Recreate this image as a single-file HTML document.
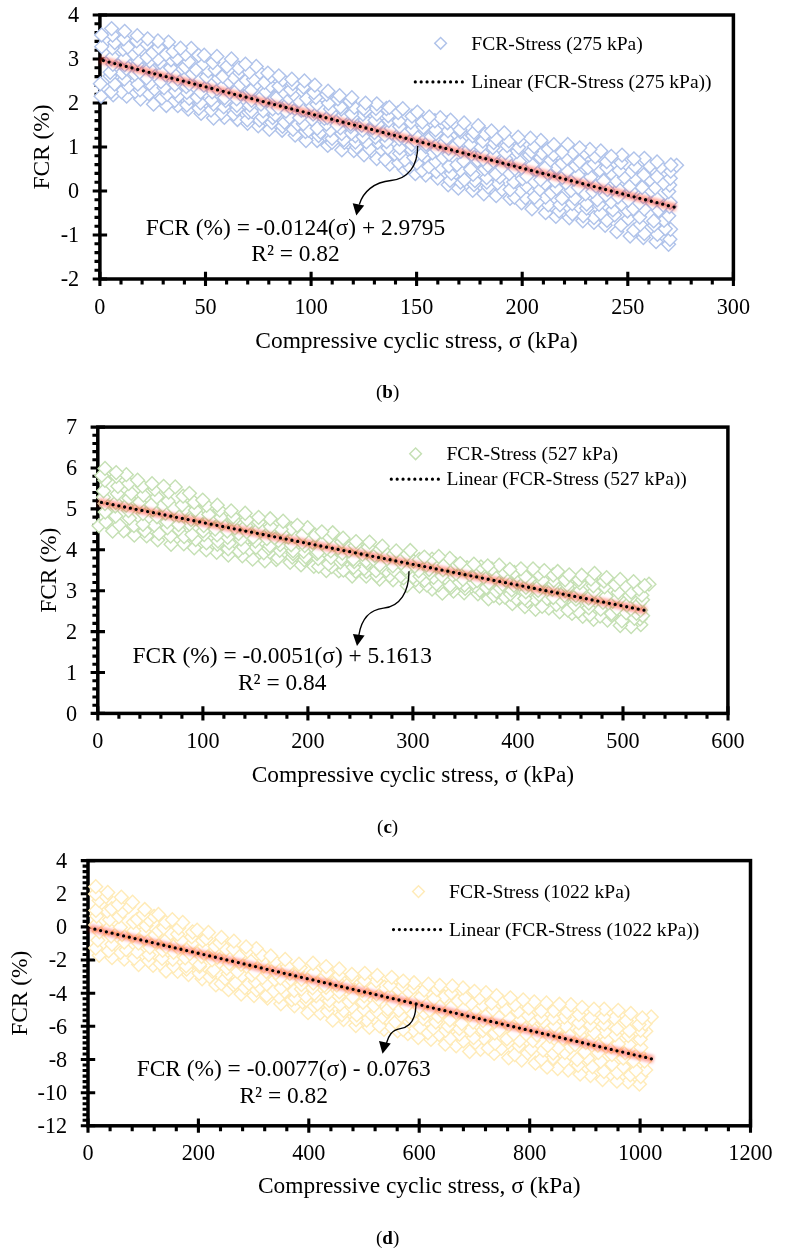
<!DOCTYPE html>
<html lang="en"><head><meta charset="utf-8"><title>FCR vs compressive cyclic stress</title>
<style>
html,body{margin:0;padding:0;background:#fff;}
body{width:785px;height:1255px;overflow:hidden;font-family:"Liberation Serif",serif;}
svg{display:block;}
</style></head><body>
<svg width="785" height="1255" viewBox="0 0 785 1255">
<defs><filter id="glow" x="-5%" y="-30%" width="110%" height="160%" filterUnits="objectBoundingBox"><feGaussianBlur stdDeviation="1.5"/></filter></defs>
<rect width="785" height="1255" fill="#fff"/>
<rect x="99.9" y="15" width="633.5" height="264" fill="none" stroke="#000" stroke-width="3.5"/>
<path d="M92.7,15H107.1M94.5,23.8H99.9M94.5,32.6H99.9M94.5,41.4H99.9M94.5,50.2H99.9M92.7,59H107.1M94.5,67.8H99.9M94.5,76.6H99.9M94.5,85.4H99.9M94.5,94.2H99.9M92.7,103H107.1M94.5,111.8H99.9M94.5,120.6H99.9M94.5,129.4H99.9M94.5,138.2H99.9M92.7,147H107.1M94.5,155.8H99.9M94.5,164.6H99.9M94.5,173.4H99.9M94.5,182.2H99.9M92.7,191H107.1M94.5,199.8H99.9M94.5,208.6H99.9M94.5,217.4H99.9M94.5,226.2H99.9M92.7,235H107.1M94.5,243.8H99.9M94.5,252.6H99.9M94.5,261.4H99.9M94.5,270.2H99.9M92.7,279H107.1M99.9,271.8V286M121,279V284.4M142.1,279V284.4M163.2,279V284.4M184.4,279V284.4M205.5,271.8V286M226.6,279V284.4M247.7,279V284.4M268.8,279V284.4M290,279V284.4M311.1,271.8V286M332.2,279V284.4M353.3,279V284.4M374.4,279V284.4M395.5,279V284.4M416.6,271.8V286M437.8,279V284.4M458.9,279V284.4M480,279V284.4M501.1,279V284.4M522.2,271.8V286M543.4,279V284.4M564.5,279V284.4M585.6,279V284.4M606.7,279V284.4M627.8,271.8V286M648.9,279V284.4M670,279V284.4M691.2,279V284.4M712.3,279V284.4M733.4,271.8V286" stroke="#000" stroke-width="3.1" fill="none"/>
<g font-family="'Liberation Serif', serif" font-size="22.2" fill="#000">
<g text-anchor="end">
<text x="79.2" y="22.3">4</text>
<text x="79.2" y="66.3">3</text>
<text x="79.2" y="110.3">2</text>
<text x="79.2" y="154.3">1</text>
<text x="79.2" y="198.3">0</text>
<text x="79.2" y="242.3">-1</text>
<text x="79.2" y="286.3">-2</text>
</g><g text-anchor="middle">
<text x="99.9" y="314">0</text>
<text x="205.5" y="314">50</text>
<text x="311.1" y="314">100</text>
<text x="416.6" y="314">150</text>
<text x="522.2" y="314">200</text>
<text x="627.8" y="314">250</text>
<text x="733.4" y="314">300</text>
</g></g>
<g font-family="'Liberation Serif', serif" font-size="23.4" fill="#000" text-anchor="middle">
<text x="416.6" y="348.4">Compressive cyclic stress, σ (kPa)</text>
<text transform="translate(49.1,147) rotate(-90)">FCR (%)</text>
</g>
<g transform="rotate(45)" fill="#fff" stroke="#b0c3ea" stroke-width="1.42">
<rect x="640.6" y="-304.9" width="9.76" height="9.76"/>
<rect x="629.9" y="-297.9" width="9.76" height="9.76"/>
<rect x="618.0" y="-291.9" width="9.76" height="9.76"/>
<rect x="607.6" y="-283.5" width="9.76" height="9.76"/>
<rect x="595.1" y="-277.2" width="9.76" height="9.76"/>
<rect x="582.3" y="-273.5" width="9.76" height="9.76"/>
<rect x="572.3" y="-267.7" width="9.76" height="9.76"/>
<rect x="563.4" y="-260.8" width="9.76" height="9.76"/>
<rect x="551.7" y="-253.4" width="9.76" height="9.76"/>
<rect x="541.2" y="-244.9" width="9.76" height="9.76"/>
<rect x="531.3" y="-240.3" width="9.76" height="9.76"/>
<rect x="519.0" y="-233.3" width="9.76" height="9.76"/>
<rect x="507.3" y="-230.3" width="9.76" height="9.76"/>
<rect x="496.0" y="-225.3" width="9.76" height="9.76"/>
<rect x="484.3" y="-217.4" width="9.76" height="9.76"/>
<rect x="474.3" y="-209.9" width="9.76" height="9.76"/>
<rect x="463.9" y="-204.6" width="9.76" height="9.76"/>
<rect x="452.3" y="-195.9" width="9.76" height="9.76"/>
<rect x="442.7" y="-191.1" width="9.76" height="9.76"/>
<rect x="430.5" y="-188.5" width="9.76" height="9.76"/>
<rect x="420.0" y="-182.1" width="9.76" height="9.76"/>
<rect x="411.6" y="-175.8" width="9.76" height="9.76"/>
<rect x="400.8" y="-170.7" width="9.76" height="9.76"/>
<rect x="386.8" y="-164.4" width="9.76" height="9.76"/>
<rect x="373.6" y="-159.1" width="9.76" height="9.76"/>
<rect x="362.0" y="-152.8" width="9.76" height="9.76"/>
<rect x="351.8" y="-148.6" width="9.76" height="9.76"/>
<rect x="342.8" y="-140.6" width="9.76" height="9.76"/>
<rect x="329.7" y="-133.8" width="9.76" height="9.76"/>
<rect x="318.7" y="-129.8" width="9.76" height="9.76"/>
<rect x="310.9" y="-121.8" width="9.76" height="9.76"/>
<rect x="299.4" y="-118.0" width="9.76" height="9.76"/>
<rect x="286.7" y="-112.3" width="9.76" height="9.76"/>
<rect x="277.0" y="-103.9" width="9.76" height="9.76"/>
<rect x="266.7" y="-98.5" width="9.76" height="9.76"/>
<rect x="257.4" y="-92.7" width="9.76" height="9.76"/>
<rect x="247.5" y="-88.3" width="9.76" height="9.76"/>
<rect x="236.8" y="-80.5" width="9.76" height="9.76"/>
<rect x="229.6" y="-72.4" width="9.76" height="9.76"/>
<rect x="217.5" y="-66.9" width="9.76" height="9.76"/>
<rect x="205.4" y="-60.8" width="9.76" height="9.76"/>
<rect x="195.6" y="-55.9" width="9.76" height="9.76"/>
<rect x="187.3" y="-47.9" width="9.76" height="9.76"/>
<rect x="177.3" y="-39.8" width="9.76" height="9.76"/>
<rect x="164.5" y="-34.2" width="9.76" height="9.76"/>
<rect x="152.7" y="-26.4" width="9.76" height="9.76"/>
<rect x="142.3" y="-17.8" width="9.76" height="9.76"/>
<rect x="134.6" y="-8.3" width="9.76" height="9.76"/>
<rect x="638.0" y="-309.4" width="9.76" height="9.76"/>
<rect x="625.7" y="-304.0" width="9.76" height="9.76"/>
<rect x="616.0" y="-295.3" width="9.76" height="9.76"/>
<rect x="606.0" y="-290.3" width="9.76" height="9.76"/>
<rect x="593.5" y="-284.8" width="9.76" height="9.76"/>
<rect x="580.2" y="-278.2" width="9.76" height="9.76"/>
<rect x="568.9" y="-271.1" width="9.76" height="9.76"/>
<rect x="560.1" y="-264.7" width="9.76" height="9.76"/>
<rect x="551.0" y="-258.4" width="9.76" height="9.76"/>
<rect x="539.7" y="-251.0" width="9.76" height="9.76"/>
<rect x="527.6" y="-247.8" width="9.76" height="9.76"/>
<rect x="518.3" y="-242.4" width="9.76" height="9.76"/>
<rect x="506.5" y="-236.6" width="9.76" height="9.76"/>
<rect x="498.2" y="-229.3" width="9.76" height="9.76"/>
<rect x="484.1" y="-225.8" width="9.76" height="9.76"/>
<rect x="472.6" y="-217.8" width="9.76" height="9.76"/>
<rect x="460.8" y="-209.6" width="9.76" height="9.76"/>
<rect x="449.5" y="-201.7" width="9.76" height="9.76"/>
<rect x="440.9" y="-195.5" width="9.76" height="9.76"/>
<rect x="424.9" y="-192.1" width="9.76" height="9.76"/>
<rect x="414.1" y="-182.8" width="9.76" height="9.76"/>
<rect x="402.9" y="-176.5" width="9.76" height="9.76"/>
<rect x="392.3" y="-171.5" width="9.76" height="9.76"/>
<rect x="380.4" y="-164.5" width="9.76" height="9.76"/>
<rect x="364.1" y="-160.9" width="9.76" height="9.76"/>
<rect x="351.4" y="-153.2" width="9.76" height="9.76"/>
<rect x="339.4" y="-147.7" width="9.76" height="9.76"/>
<rect x="330.6" y="-138.9" width="9.76" height="9.76"/>
<rect x="316.2" y="-134.3" width="9.76" height="9.76"/>
<rect x="304.1" y="-127.9" width="9.76" height="9.76"/>
<rect x="293.8" y="-120.6" width="9.76" height="9.76"/>
<rect x="284.2" y="-115.3" width="9.76" height="9.76"/>
<rect x="273.9" y="-110.4" width="9.76" height="9.76"/>
<rect x="263.5" y="-103.4" width="9.76" height="9.76"/>
<rect x="254.7" y="-95.0" width="9.76" height="9.76"/>
<rect x="241.1" y="-89.4" width="9.76" height="9.76"/>
<rect x="231.6" y="-81.4" width="9.76" height="9.76"/>
<rect x="222.1" y="-76.3" width="9.76" height="9.76"/>
<rect x="212.3" y="-68.9" width="9.76" height="9.76"/>
<rect x="201.5" y="-62.7" width="9.76" height="9.76"/>
<rect x="189.8" y="-57.3" width="9.76" height="9.76"/>
<rect x="179.0" y="-49.9" width="9.76" height="9.76"/>
<rect x="166.9" y="-43.8" width="9.76" height="9.76"/>
<rect x="155.4" y="-35.6" width="9.76" height="9.76"/>
<rect x="146.0" y="-25.9" width="9.76" height="9.76"/>
<rect x="138.6" y="-18.6" width="9.76" height="9.76"/>
<rect x="631.4" y="-316.9" width="9.76" height="9.76"/>
<rect x="627.3" y="-313.6" width="9.76" height="9.76"/>
<rect x="616.9" y="-308.2" width="9.76" height="9.76"/>
<rect x="606.7" y="-298.8" width="9.76" height="9.76"/>
<rect x="594.0" y="-294.5" width="9.76" height="9.76"/>
<rect x="581.7" y="-287.5" width="9.76" height="9.76"/>
<rect x="570.7" y="-278.9" width="9.76" height="9.76"/>
<rect x="557.1" y="-272.5" width="9.76" height="9.76"/>
<rect x="543.7" y="-265.6" width="9.76" height="9.76"/>
<rect x="535.9" y="-256.0" width="9.76" height="9.76"/>
<rect x="520.3" y="-251.2" width="9.76" height="9.76"/>
<rect x="512.6" y="-243.3" width="9.76" height="9.76"/>
<rect x="498.4" y="-238.0" width="9.76" height="9.76"/>
<rect x="489.9" y="-231.5" width="9.76" height="9.76"/>
<rect x="476.4" y="-227.3" width="9.76" height="9.76"/>
<rect x="468.0" y="-220.4" width="9.76" height="9.76"/>
<rect x="458.7" y="-213.0" width="9.76" height="9.76"/>
<rect x="450.6" y="-206.1" width="9.76" height="9.76"/>
<rect x="436.8" y="-201.5" width="9.76" height="9.76"/>
<rect x="425.6" y="-198.2" width="9.76" height="9.76"/>
<rect x="416.2" y="-190.3" width="9.76" height="9.76"/>
<rect x="405.2" y="-184.4" width="9.76" height="9.76"/>
<rect x="394.5" y="-178.1" width="9.76" height="9.76"/>
<rect x="383.0" y="-175.1" width="9.76" height="9.76"/>
<rect x="370.3" y="-168.8" width="9.76" height="9.76"/>
<rect x="361.6" y="-160.9" width="9.76" height="9.76"/>
<rect x="346.9" y="-155.7" width="9.76" height="9.76"/>
<rect x="337.0" y="-149.0" width="9.76" height="9.76"/>
<rect x="327.8" y="-141.8" width="9.76" height="9.76"/>
<rect x="315.2" y="-138.1" width="9.76" height="9.76"/>
<rect x="305.5" y="-130.9" width="9.76" height="9.76"/>
<rect x="293.5" y="-127.5" width="9.76" height="9.76"/>
<rect x="282.9" y="-119.6" width="9.76" height="9.76"/>
<rect x="271.1" y="-114.5" width="9.76" height="9.76"/>
<rect x="263.4" y="-107.5" width="9.76" height="9.76"/>
<rect x="250.3" y="-101.2" width="9.76" height="9.76"/>
<rect x="240.0" y="-95.1" width="9.76" height="9.76"/>
<rect x="228.9" y="-87.5" width="9.76" height="9.76"/>
<rect x="219.7" y="-82.3" width="9.76" height="9.76"/>
<rect x="209.6" y="-73.9" width="9.76" height="9.76"/>
<rect x="198.5" y="-69.1" width="9.76" height="9.76"/>
<rect x="189.3" y="-63.0" width="9.76" height="9.76"/>
<rect x="180.1" y="-56.4" width="9.76" height="9.76"/>
<rect x="167.3" y="-51.0" width="9.76" height="9.76"/>
<rect x="157.6" y="-40.4" width="9.76" height="9.76"/>
<rect x="147.3" y="-34.7" width="9.76" height="9.76"/>
<rect x="135.6" y="-26.5" width="9.76" height="9.76"/>
<rect x="125.3" y="-16.6" width="9.76" height="9.76"/>
<rect x="620.5" y="-318.5" width="9.76" height="9.76"/>
<rect x="613.6" y="-310.9" width="9.76" height="9.76"/>
<rect x="601.0" y="-303.7" width="9.76" height="9.76"/>
<rect x="588.0" y="-299.4" width="9.76" height="9.76"/>
<rect x="576.9" y="-289.8" width="9.76" height="9.76"/>
<rect x="563.2" y="-284.0" width="9.76" height="9.76"/>
<rect x="554.3" y="-275.4" width="9.76" height="9.76"/>
<rect x="542.0" y="-270.9" width="9.76" height="9.76"/>
<rect x="532.8" y="-262.0" width="9.76" height="9.76"/>
<rect x="521.2" y="-258.2" width="9.76" height="9.76"/>
<rect x="510.7" y="-252.8" width="9.76" height="9.76"/>
<rect x="498.9" y="-245.6" width="9.76" height="9.76"/>
<rect x="487.0" y="-239.5" width="9.76" height="9.76"/>
<rect x="473.8" y="-233.0" width="9.76" height="9.76"/>
<rect x="464.8" y="-223.4" width="9.76" height="9.76"/>
<rect x="453.0" y="-216.1" width="9.76" height="9.76"/>
<rect x="440.8" y="-210.1" width="9.76" height="9.76"/>
<rect x="430.0" y="-204.9" width="9.76" height="9.76"/>
<rect x="417.4" y="-198.7" width="9.76" height="9.76"/>
<rect x="406.5" y="-194.7" width="9.76" height="9.76"/>
<rect x="399.1" y="-186.0" width="9.76" height="9.76"/>
<rect x="386.2" y="-179.0" width="9.76" height="9.76"/>
<rect x="374.2" y="-174.5" width="9.76" height="9.76"/>
<rect x="362.9" y="-171.2" width="9.76" height="9.76"/>
<rect x="354.5" y="-163.6" width="9.76" height="9.76"/>
<rect x="342.4" y="-160.1" width="9.76" height="9.76"/>
<rect x="331.2" y="-152.0" width="9.76" height="9.76"/>
<rect x="320.6" y="-146.2" width="9.76" height="9.76"/>
<rect x="310.1" y="-138.5" width="9.76" height="9.76"/>
<rect x="297.2" y="-131.8" width="9.76" height="9.76"/>
<rect x="282.8" y="-126.7" width="9.76" height="9.76"/>
<rect x="271.0" y="-118.3" width="9.76" height="9.76"/>
<rect x="259.6" y="-112.6" width="9.76" height="9.76"/>
<rect x="251.3" y="-104.1" width="9.76" height="9.76"/>
<rect x="237.1" y="-97.9" width="9.76" height="9.76"/>
<rect x="225.8" y="-93.3" width="9.76" height="9.76"/>
<rect x="215.2" y="-83.6" width="9.76" height="9.76"/>
<rect x="203.1" y="-75.5" width="9.76" height="9.76"/>
<rect x="192.6" y="-71.6" width="9.76" height="9.76"/>
<rect x="183.6" y="-64.2" width="9.76" height="9.76"/>
<rect x="173.2" y="-58.7" width="9.76" height="9.76"/>
<rect x="159.8" y="-51.6" width="9.76" height="9.76"/>
<rect x="152.1" y="-42.8" width="9.76" height="9.76"/>
<rect x="139.0" y="-36.8" width="9.76" height="9.76"/>
<rect x="126.6" y="-29.0" width="9.76" height="9.76"/>
<rect x="620.6" y="-325.1" width="9.76" height="9.76"/>
<rect x="609.7" y="-321.6" width="9.76" height="9.76"/>
<rect x="598.5" y="-312.7" width="9.76" height="9.76"/>
<rect x="590.6" y="-305.0" width="9.76" height="9.76"/>
<rect x="579.0" y="-299.9" width="9.76" height="9.76"/>
<rect x="569.9" y="-294.3" width="9.76" height="9.76"/>
<rect x="558.7" y="-286.0" width="9.76" height="9.76"/>
<rect x="546.2" y="-281.9" width="9.76" height="9.76"/>
<rect x="533.5" y="-274.1" width="9.76" height="9.76"/>
<rect x="521.8" y="-265.3" width="9.76" height="9.76"/>
<rect x="510.4" y="-260.6" width="9.76" height="9.76"/>
<rect x="501.5" y="-254.1" width="9.76" height="9.76"/>
<rect x="490.9" y="-247.9" width="9.76" height="9.76"/>
<rect x="478.0" y="-242.3" width="9.76" height="9.76"/>
<rect x="468.7" y="-232.5" width="9.76" height="9.76"/>
<rect x="457.5" y="-228.1" width="9.76" height="9.76"/>
<rect x="447.5" y="-217.9" width="9.76" height="9.76"/>
<rect x="434.8" y="-211.5" width="9.76" height="9.76"/>
<rect x="419.9" y="-206.4" width="9.76" height="9.76"/>
<rect x="409.0" y="-202.5" width="9.76" height="9.76"/>
<rect x="402.4" y="-193.9" width="9.76" height="9.76"/>
<rect x="390.5" y="-190.0" width="9.76" height="9.76"/>
<rect x="382.4" y="-182.9" width="9.76" height="9.76"/>
<rect x="368.6" y="-178.0" width="9.76" height="9.76"/>
<rect x="357.6" y="-173.3" width="9.76" height="9.76"/>
<rect x="348.6" y="-164.8" width="9.76" height="9.76"/>
<rect x="337.8" y="-159.3" width="9.76" height="9.76"/>
<rect x="326.2" y="-155.1" width="9.76" height="9.76"/>
<rect x="313.8" y="-147.9" width="9.76" height="9.76"/>
<rect x="300.1" y="-141.2" width="9.76" height="9.76"/>
<rect x="290.2" y="-133.5" width="9.76" height="9.76"/>
<rect x="275.9" y="-128.4" width="9.76" height="9.76"/>
<rect x="264.9" y="-120.7" width="9.76" height="9.76"/>
<rect x="253.3" y="-115.8" width="9.76" height="9.76"/>
<rect x="246.1" y="-107.1" width="9.76" height="9.76"/>
<rect x="232.4" y="-102.3" width="9.76" height="9.76"/>
<rect x="223.1" y="-94.6" width="9.76" height="9.76"/>
<rect x="210.2" y="-89.9" width="9.76" height="9.76"/>
<rect x="202.2" y="-81.6" width="9.76" height="9.76"/>
<rect x="188.0" y="-75.4" width="9.76" height="9.76"/>
<rect x="178.7" y="-68.8" width="9.76" height="9.76"/>
<rect x="166.6" y="-60.9" width="9.76" height="9.76"/>
<rect x="153.9" y="-53.2" width="9.76" height="9.76"/>
<rect x="142.9" y="-47.9" width="9.76" height="9.76"/>
<rect x="132.9" y="-39.8" width="9.76" height="9.76"/>
<rect x="124.1" y="-31.7" width="9.76" height="9.76"/>
<rect x="614.6" y="-332.2" width="9.76" height="9.76"/>
<rect x="609.1" y="-328.9" width="9.76" height="9.76"/>
<rect x="600.2" y="-322.6" width="9.76" height="9.76"/>
<rect x="590.9" y="-313.5" width="9.76" height="9.76"/>
<rect x="580.9" y="-307.7" width="9.76" height="9.76"/>
<rect x="571.4" y="-302.6" width="9.76" height="9.76"/>
<rect x="561.5" y="-295.2" width="9.76" height="9.76"/>
<rect x="549.5" y="-288.7" width="9.76" height="9.76"/>
<rect x="536.7" y="-281.2" width="9.76" height="9.76"/>
<rect x="524.5" y="-275.6" width="9.76" height="9.76"/>
<rect x="515.6" y="-269.5" width="9.76" height="9.76"/>
<rect x="504.4" y="-260.2" width="9.76" height="9.76"/>
<rect x="492.2" y="-252.8" width="9.76" height="9.76"/>
<rect x="478.6" y="-249.6" width="9.76" height="9.76"/>
<rect x="468.8" y="-241.3" width="9.76" height="9.76"/>
<rect x="457.2" y="-232.8" width="9.76" height="9.76"/>
<rect x="446.3" y="-229.1" width="9.76" height="9.76"/>
<rect x="436.7" y="-218.9" width="9.76" height="9.76"/>
<rect x="421.8" y="-213.3" width="9.76" height="9.76"/>
<rect x="410.1" y="-208.1" width="9.76" height="9.76"/>
<rect x="399.9" y="-202.3" width="9.76" height="9.76"/>
<rect x="388.6" y="-193.7" width="9.76" height="9.76"/>
<rect x="375.8" y="-189.0" width="9.76" height="9.76"/>
<rect x="362.8" y="-181.4" width="9.76" height="9.76"/>
<rect x="353.7" y="-175.9" width="9.76" height="9.76"/>
<rect x="343.5" y="-169.3" width="9.76" height="9.76"/>
<rect x="332.5" y="-163.3" width="9.76" height="9.76"/>
<rect x="321.9" y="-154.8" width="9.76" height="9.76"/>
<rect x="308.2" y="-150.5" width="9.76" height="9.76"/>
<rect x="297.2" y="-145.6" width="9.76" height="9.76"/>
<rect x="286.3" y="-139.9" width="9.76" height="9.76"/>
<rect x="276.4" y="-134.2" width="9.76" height="9.76"/>
<rect x="268.0" y="-125.4" width="9.76" height="9.76"/>
<rect x="252.8" y="-120.5" width="9.76" height="9.76"/>
<rect x="243.9" y="-111.9" width="9.76" height="9.76"/>
<rect x="231.7" y="-108.4" width="9.76" height="9.76"/>
<rect x="222.8" y="-101.9" width="9.76" height="9.76"/>
<rect x="211.3" y="-95.5" width="9.76" height="9.76"/>
<rect x="199.7" y="-88.6" width="9.76" height="9.76"/>
<rect x="188.3" y="-79.4" width="9.76" height="9.76"/>
<rect x="176.8" y="-74.7" width="9.76" height="9.76"/>
<rect x="165.2" y="-68.9" width="9.76" height="9.76"/>
<rect x="152.6" y="-61.3" width="9.76" height="9.76"/>
<rect x="144.9" y="-52.8" width="9.76" height="9.76"/>
<rect x="132.9" y="-45.7" width="9.76" height="9.76"/>
<rect x="120.4" y="-39.2" width="9.76" height="9.76"/>
<rect x="612.0" y="-335.7" width="9.76" height="9.76"/>
<rect x="600.4" y="-328.9" width="9.76" height="9.76"/>
<rect x="588.9" y="-320.5" width="9.76" height="9.76"/>
<rect x="576.5" y="-316.1" width="9.76" height="9.76"/>
<rect x="566.3" y="-308.7" width="9.76" height="9.76"/>
<rect x="558.8" y="-300.3" width="9.76" height="9.76"/>
<rect x="548.2" y="-294.7" width="9.76" height="9.76"/>
<rect x="536.1" y="-291.7" width="9.76" height="9.76"/>
<rect x="527.6" y="-284.2" width="9.76" height="9.76"/>
<rect x="518.2" y="-276.9" width="9.76" height="9.76"/>
<rect x="504.7" y="-269.7" width="9.76" height="9.76"/>
<rect x="493.7" y="-264.0" width="9.76" height="9.76"/>
<rect x="482.4" y="-255.2" width="9.76" height="9.76"/>
<rect x="468.0" y="-249.3" width="9.76" height="9.76"/>
<rect x="457.8" y="-239.9" width="9.76" height="9.76"/>
<rect x="449.4" y="-233.9" width="9.76" height="9.76"/>
<rect x="437.8" y="-229.2" width="9.76" height="9.76"/>
<rect x="428.0" y="-223.6" width="9.76" height="9.76"/>
<rect x="417.3" y="-217.1" width="9.76" height="9.76"/>
<rect x="406.6" y="-213.4" width="9.76" height="9.76"/>
<rect x="398.4" y="-204.2" width="9.76" height="9.76"/>
<rect x="388.0" y="-198.8" width="9.76" height="9.76"/>
<rect x="374.5" y="-192.3" width="9.76" height="9.76"/>
<rect x="360.6" y="-186.6" width="9.76" height="9.76"/>
<rect x="349.0" y="-177.8" width="9.76" height="9.76"/>
<rect x="339.5" y="-172.0" width="9.76" height="9.76"/>
<rect x="330.8" y="-165.1" width="9.76" height="9.76"/>
<rect x="318.8" y="-161.4" width="9.76" height="9.76"/>
<rect x="309.8" y="-153.2" width="9.76" height="9.76"/>
<rect x="295.1" y="-148.2" width="9.76" height="9.76"/>
<rect x="287.1" y="-141.8" width="9.76" height="9.76"/>
<rect x="271.6" y="-136.7" width="9.76" height="9.76"/>
<rect x="258.4" y="-129.9" width="9.76" height="9.76"/>
<rect x="248.4" y="-122.6" width="9.76" height="9.76"/>
<rect x="236.7" y="-116.6" width="9.76" height="9.76"/>
<rect x="226.2" y="-108.5" width="9.76" height="9.76"/>
<rect x="213.2" y="-102.9" width="9.76" height="9.76"/>
<rect x="203.1" y="-98.2" width="9.76" height="9.76"/>
<rect x="192.8" y="-90.5" width="9.76" height="9.76"/>
<rect x="180.6" y="-83.7" width="9.76" height="9.76"/>
<rect x="170.4" y="-78.5" width="9.76" height="9.76"/>
<rect x="160.5" y="-70.0" width="9.76" height="9.76"/>
<rect x="149.1" y="-62.2" width="9.76" height="9.76"/>
<rect x="137.7" y="-56.2" width="9.76" height="9.76"/>
<rect x="129.1" y="-47.3" width="9.76" height="9.76"/>
<rect x="115.3" y="-42.0" width="9.76" height="9.76"/>
<rect x="603.4" y="-342.3" width="9.76" height="9.76"/>
<rect x="591.2" y="-335.4" width="9.76" height="9.76"/>
<rect x="581.7" y="-326.4" width="9.76" height="9.76"/>
<rect x="572.0" y="-318.5" width="9.76" height="9.76"/>
<rect x="558.4" y="-312.8" width="9.76" height="9.76"/>
<rect x="549.9" y="-303.8" width="9.76" height="9.76"/>
<rect x="538.0" y="-297.4" width="9.76" height="9.76"/>
<rect x="527.5" y="-289.9" width="9.76" height="9.76"/>
<rect x="517.2" y="-285.2" width="9.76" height="9.76"/>
<rect x="507.0" y="-280.2" width="9.76" height="9.76"/>
<rect x="499.1" y="-272.3" width="9.76" height="9.76"/>
<rect x="488.0" y="-264.7" width="9.76" height="9.76"/>
<rect x="476.6" y="-258.0" width="9.76" height="9.76"/>
<rect x="464.7" y="-250.4" width="9.76" height="9.76"/>
<rect x="453.0" y="-244.6" width="9.76" height="9.76"/>
<rect x="444.5" y="-237.8" width="9.76" height="9.76"/>
<rect x="432.1" y="-231.2" width="9.76" height="9.76"/>
<rect x="419.8" y="-223.5" width="9.76" height="9.76"/>
<rect x="410.0" y="-218.7" width="9.76" height="9.76"/>
<rect x="396.6" y="-213.1" width="9.76" height="9.76"/>
<rect x="384.5" y="-204.6" width="9.76" height="9.76"/>
<rect x="375.4" y="-196.9" width="9.76" height="9.76"/>
<rect x="362.5" y="-190.8" width="9.76" height="9.76"/>
<rect x="350.0" y="-184.2" width="9.76" height="9.76"/>
<rect x="338.0" y="-178.1" width="9.76" height="9.76"/>
<rect x="327.1" y="-172.8" width="9.76" height="9.76"/>
<rect x="319.0" y="-166.2" width="9.76" height="9.76"/>
<rect x="309.1" y="-161.2" width="9.76" height="9.76"/>
<rect x="300.1" y="-155.7" width="9.76" height="9.76"/>
<rect x="289.6" y="-150.6" width="9.76" height="9.76"/>
<rect x="278.0" y="-144.9" width="9.76" height="9.76"/>
<rect x="268.7" y="-139.8" width="9.76" height="9.76"/>
<rect x="259.9" y="-132.2" width="9.76" height="9.76"/>
<rect x="248.3" y="-127.9" width="9.76" height="9.76"/>
<rect x="236.5" y="-119.1" width="9.76" height="9.76"/>
<rect x="224.8" y="-114.9" width="9.76" height="9.76"/>
<rect x="215.1" y="-109.2" width="9.76" height="9.76"/>
<rect x="204.2" y="-103.8" width="9.76" height="9.76"/>
<rect x="195.4" y="-96.5" width="9.76" height="9.76"/>
<rect x="183.4" y="-88.6" width="9.76" height="9.76"/>
<rect x="171.8" y="-85.3" width="9.76" height="9.76"/>
<rect x="163.6" y="-77.5" width="9.76" height="9.76"/>
<rect x="152.4" y="-73.9" width="9.76" height="9.76"/>
<rect x="144.2" y="-67.4" width="9.76" height="9.76"/>
<rect x="134.9" y="-59.8" width="9.76" height="9.76"/>
<rect x="124.1" y="-51.7" width="9.76" height="9.76"/>
<rect x="114.6" y="-44.6" width="9.76" height="9.76"/>
<rect x="599.5" y="-347.6" width="9.76" height="9.76"/>
<rect x="594.0" y="-344.5" width="9.76" height="9.76"/>
<rect x="581.6" y="-337.3" width="9.76" height="9.76"/>
<rect x="570.8" y="-327.8" width="9.76" height="9.76"/>
<rect x="562.1" y="-320.9" width="9.76" height="9.76"/>
<rect x="549.6" y="-314.5" width="9.76" height="9.76"/>
<rect x="539.5" y="-308.6" width="9.76" height="9.76"/>
<rect x="529.4" y="-302.1" width="9.76" height="9.76"/>
<rect x="519.1" y="-294.9" width="9.76" height="9.76"/>
<rect x="507.9" y="-286.9" width="9.76" height="9.76"/>
<rect x="497.5" y="-281.0" width="9.76" height="9.76"/>
<rect x="488.1" y="-275.6" width="9.76" height="9.76"/>
<rect x="479.0" y="-269.7" width="9.76" height="9.76"/>
<rect x="467.8" y="-263.2" width="9.76" height="9.76"/>
<rect x="460.7" y="-254.2" width="9.76" height="9.76"/>
<rect x="448.0" y="-249.0" width="9.76" height="9.76"/>
<rect x="438.9" y="-240.9" width="9.76" height="9.76"/>
<rect x="429.6" y="-235.4" width="9.76" height="9.76"/>
<rect x="419.9" y="-230.2" width="9.76" height="9.76"/>
<rect x="408.7" y="-223.0" width="9.76" height="9.76"/>
<rect x="397.9" y="-218.9" width="9.76" height="9.76"/>
<rect x="385.4" y="-212.7" width="9.76" height="9.76"/>
<rect x="378.1" y="-205.1" width="9.76" height="9.76"/>
<rect x="367.2" y="-198.0" width="9.76" height="9.76"/>
<rect x="355.3" y="-194.6" width="9.76" height="9.76"/>
<rect x="345.3" y="-185.0" width="9.76" height="9.76"/>
<rect x="332.5" y="-180.8" width="9.76" height="9.76"/>
<rect x="324.4" y="-172.9" width="9.76" height="9.76"/>
<rect x="313.5" y="-169.1" width="9.76" height="9.76"/>
<rect x="306.0" y="-161.5" width="9.76" height="9.76"/>
<rect x="293.0" y="-155.2" width="9.76" height="9.76"/>
<rect x="281.5" y="-151.9" width="9.76" height="9.76"/>
<rect x="269.4" y="-145.7" width="9.76" height="9.76"/>
<rect x="260.3" y="-140.3" width="9.76" height="9.76"/>
<rect x="247.3" y="-135.4" width="9.76" height="9.76"/>
<rect x="235.9" y="-127.8" width="9.76" height="9.76"/>
<rect x="226.1" y="-122.1" width="9.76" height="9.76"/>
<rect x="215.2" y="-115.4" width="9.76" height="9.76"/>
<rect x="206.6" y="-108.5" width="9.76" height="9.76"/>
<rect x="192.5" y="-102.0" width="9.76" height="9.76"/>
<rect x="183.3" y="-94.3" width="9.76" height="9.76"/>
<rect x="173.3" y="-88.5" width="9.76" height="9.76"/>
<rect x="158.3" y="-83.6" width="9.76" height="9.76"/>
<rect x="148.5" y="-74.9" width="9.76" height="9.76"/>
<rect x="139.7" y="-68.3" width="9.76" height="9.76"/>
<rect x="127.3" y="-61.4" width="9.76" height="9.76"/>
<rect x="116.9" y="-56.9" width="9.76" height="9.76"/>
<rect x="108.5" y="-50.4" width="9.76" height="9.76"/>
<rect x="100.0" y="-43.8" width="9.76" height="9.76"/>
<rect x="595.1" y="-352.8" width="9.76" height="9.76"/>
<rect x="584.7" y="-344.5" width="9.76" height="9.76"/>
<rect x="574.0" y="-336.4" width="9.76" height="9.76"/>
<rect x="562.7" y="-330.2" width="9.76" height="9.76"/>
<rect x="553.5" y="-322.2" width="9.76" height="9.76"/>
<rect x="542.7" y="-315.4" width="9.76" height="9.76"/>
<rect x="530.9" y="-309.0" width="9.76" height="9.76"/>
<rect x="519.2" y="-300.5" width="9.76" height="9.76"/>
<rect x="508.0" y="-293.8" width="9.76" height="9.76"/>
<rect x="495.6" y="-286.9" width="9.76" height="9.76"/>
<rect x="486.6" y="-280.0" width="9.76" height="9.76"/>
<rect x="478.0" y="-273.5" width="9.76" height="9.76"/>
<rect x="466.3" y="-267.3" width="9.76" height="9.76"/>
<rect x="456.7" y="-260.5" width="9.76" height="9.76"/>
<rect x="445.1" y="-253.1" width="9.76" height="9.76"/>
<rect x="436.3" y="-246.5" width="9.76" height="9.76"/>
<rect x="425.3" y="-243.1" width="9.76" height="9.76"/>
<rect x="413.9" y="-237.3" width="9.76" height="9.76"/>
<rect x="404.4" y="-229.1" width="9.76" height="9.76"/>
<rect x="395.0" y="-221.0" width="9.76" height="9.76"/>
<rect x="384.7" y="-214.2" width="9.76" height="9.76"/>
<rect x="372.1" y="-208.8" width="9.76" height="9.76"/>
<rect x="362.8" y="-201.4" width="9.76" height="9.76"/>
<rect x="351.5" y="-197.6" width="9.76" height="9.76"/>
<rect x="342.3" y="-190.7" width="9.76" height="9.76"/>
<rect x="332.1" y="-185.0" width="9.76" height="9.76"/>
<rect x="321.7" y="-179.5" width="9.76" height="9.76"/>
<rect x="311.4" y="-170.2" width="9.76" height="9.76"/>
<rect x="300.4" y="-164.1" width="9.76" height="9.76"/>
<rect x="287.4" y="-159.3" width="9.76" height="9.76"/>
<rect x="271.9" y="-154.4" width="9.76" height="9.76"/>
<rect x="264.0" y="-147.0" width="9.76" height="9.76"/>
<rect x="253.4" y="-141.1" width="9.76" height="9.76"/>
<rect x="240.3" y="-133.6" width="9.76" height="9.76"/>
<rect x="230.4" y="-128.1" width="9.76" height="9.76"/>
<rect x="215.6" y="-122.9" width="9.76" height="9.76"/>
<rect x="205.9" y="-117.4" width="9.76" height="9.76"/>
<rect x="196.3" y="-108.0" width="9.76" height="9.76"/>
<rect x="183.9" y="-103.6" width="9.76" height="9.76"/>
<rect x="172.1" y="-94.9" width="9.76" height="9.76"/>
<rect x="161.7" y="-88.8" width="9.76" height="9.76"/>
<rect x="151.0" y="-83.9" width="9.76" height="9.76"/>
<rect x="140.2" y="-75.7" width="9.76" height="9.76"/>
<rect x="127.5" y="-68.2" width="9.76" height="9.76"/>
<rect x="118.7" y="-62.0" width="9.76" height="9.76"/>
<rect x="106.4" y="-55.9" width="9.76" height="9.76"/>
<rect x="590.4" y="-358.1" width="9.76" height="9.76"/>
<rect x="580.6" y="-354.1" width="9.76" height="9.76"/>
<rect x="572.0" y="-347.0" width="9.76" height="9.76"/>
<rect x="562.2" y="-336.3" width="9.76" height="9.76"/>
<rect x="549.3" y="-329.0" width="9.76" height="9.76"/>
<rect x="538.4" y="-319.5" width="9.76" height="9.76"/>
<rect x="526.9" y="-314.9" width="9.76" height="9.76"/>
<rect x="516.8" y="-310.4" width="9.76" height="9.76"/>
<rect x="508.5" y="-302.1" width="9.76" height="9.76"/>
<rect x="500.0" y="-294.8" width="9.76" height="9.76"/>
<rect x="488.2" y="-287.1" width="9.76" height="9.76"/>
<rect x="476.6" y="-278.9" width="9.76" height="9.76"/>
<rect x="462.5" y="-273.5" width="9.76" height="9.76"/>
<rect x="454.6" y="-265.0" width="9.76" height="9.76"/>
<rect x="444.3" y="-257.5" width="9.76" height="9.76"/>
<rect x="433.1" y="-253.3" width="9.76" height="9.76"/>
<rect x="423.8" y="-246.5" width="9.76" height="9.76"/>
<rect x="412.1" y="-238.4" width="9.76" height="9.76"/>
<rect x="398.3" y="-234.5" width="9.76" height="9.76"/>
<rect x="388.0" y="-227.0" width="9.76" height="9.76"/>
<rect x="380.1" y="-217.2" width="9.76" height="9.76"/>
<rect x="368.6" y="-214.1" width="9.76" height="9.76"/>
<rect x="356.3" y="-206.8" width="9.76" height="9.76"/>
<rect x="345.1" y="-201.4" width="9.76" height="9.76"/>
<rect x="337.6" y="-194.0" width="9.76" height="9.76"/>
<rect x="329.1" y="-185.2" width="9.76" height="9.76"/>
<rect x="313.9" y="-180.7" width="9.76" height="9.76"/>
<rect x="304.0" y="-173.9" width="9.76" height="9.76"/>
<rect x="292.8" y="-169.2" width="9.76" height="9.76"/>
<rect x="282.5" y="-161.2" width="9.76" height="9.76"/>
<rect x="271.2" y="-157.9" width="9.76" height="9.76"/>
<rect x="261.2" y="-152.9" width="9.76" height="9.76"/>
<rect x="251.5" y="-148.3" width="9.76" height="9.76"/>
<rect x="240.8" y="-142.4" width="9.76" height="9.76"/>
<rect x="230.1" y="-137.4" width="9.76" height="9.76"/>
<rect x="222.4" y="-130.3" width="9.76" height="9.76"/>
<rect x="212.1" y="-125.7" width="9.76" height="9.76"/>
<rect x="202.5" y="-118.4" width="9.76" height="9.76"/>
<rect x="189.8" y="-111.2" width="9.76" height="9.76"/>
<rect x="174.7" y="-106.2" width="9.76" height="9.76"/>
<rect x="164.5" y="-97.7" width="9.76" height="9.76"/>
<rect x="153.8" y="-90.9" width="9.76" height="9.76"/>
<rect x="140.7" y="-83.5" width="9.76" height="9.76"/>
<rect x="129.9" y="-77.6" width="9.76" height="9.76"/>
<rect x="120.6" y="-72.6" width="9.76" height="9.76"/>
<rect x="110.1" y="-64.9" width="9.76" height="9.76"/>
<rect x="99.5" y="-59.7" width="9.76" height="9.76"/>
<rect x="91.7" y="-52.0" width="9.76" height="9.76"/>
<rect x="590.4" y="-366.4" width="9.76" height="9.76"/>
<rect x="586.2" y="-362.6" width="9.76" height="9.76"/>
<rect x="574.2" y="-355.0" width="9.76" height="9.76"/>
<rect x="562.7" y="-348.6" width="9.76" height="9.76"/>
<rect x="555.7" y="-340.8" width="9.76" height="9.76"/>
<rect x="544.6" y="-335.1" width="9.76" height="9.76"/>
<rect x="537.9" y="-326.6" width="9.76" height="9.76"/>
<rect x="526.7" y="-323.0" width="9.76" height="9.76"/>
<rect x="517.9" y="-316.3" width="9.76" height="9.76"/>
<rect x="509.5" y="-310.2" width="9.76" height="9.76"/>
<rect x="498.7" y="-304.2" width="9.76" height="9.76"/>
<rect x="489.1" y="-294.2" width="9.76" height="9.76"/>
<rect x="476.9" y="-288.0" width="9.76" height="9.76"/>
<rect x="467.9" y="-282.2" width="9.76" height="9.76"/>
<rect x="458.5" y="-274.3" width="9.76" height="9.76"/>
<rect x="445.7" y="-267.4" width="9.76" height="9.76"/>
<rect x="435.3" y="-259.8" width="9.76" height="9.76"/>
<rect x="422.2" y="-254.1" width="9.76" height="9.76"/>
<rect x="410.2" y="-246.1" width="9.76" height="9.76"/>
<rect x="398.7" y="-238.5" width="9.76" height="9.76"/>
<rect x="389.6" y="-233.0" width="9.76" height="9.76"/>
<rect x="381.4" y="-225.7" width="9.76" height="9.76"/>
<rect x="369.5" y="-220.7" width="9.76" height="9.76"/>
<rect x="356.8" y="-212.8" width="9.76" height="9.76"/>
<rect x="346.4" y="-204.2" width="9.76" height="9.76"/>
<rect x="335.0" y="-197.9" width="9.76" height="9.76"/>
<rect x="326.5" y="-190.5" width="9.76" height="9.76"/>
<rect x="313.0" y="-184.6" width="9.76" height="9.76"/>
<rect x="302.9" y="-177.4" width="9.76" height="9.76"/>
<rect x="291.6" y="-172.4" width="9.76" height="9.76"/>
<rect x="278.0" y="-167.3" width="9.76" height="9.76"/>
<rect x="267.6" y="-162.9" width="9.76" height="9.76"/>
<rect x="257.5" y="-155.2" width="9.76" height="9.76"/>
<rect x="245.9" y="-148.4" width="9.76" height="9.76"/>
<rect x="236.2" y="-142.6" width="9.76" height="9.76"/>
<rect x="223.3" y="-139.1" width="9.76" height="9.76"/>
<rect x="214.0" y="-133.1" width="9.76" height="9.76"/>
<rect x="200.5" y="-126.8" width="9.76" height="9.76"/>
<rect x="188.4" y="-118.4" width="9.76" height="9.76"/>
<rect x="178.6" y="-110.2" width="9.76" height="9.76"/>
<rect x="164.6" y="-105.9" width="9.76" height="9.76"/>
<rect x="156.9" y="-98.4" width="9.76" height="9.76"/>
<rect x="144.0" y="-94.3" width="9.76" height="9.76"/>
<rect x="135.8" y="-87.6" width="9.76" height="9.76"/>
<rect x="127.0" y="-81.8" width="9.76" height="9.76"/>
<rect x="117.4" y="-76.7" width="9.76" height="9.76"/>
<rect x="105.4" y="-70.9" width="9.76" height="9.76"/>
<rect x="94.2" y="-63.6" width="9.76" height="9.76"/>
</g>
<line x1="100.2" y1="59.78" x2="676.23" y2="207.65" stroke="#ff1c00" stroke-opacity="0.42" stroke-width="7.4" stroke-linecap="butt" filter="url(#glow)"/>
<line x1="103.40" y1="60.60" x2="674.58" y2="207.22" stroke="#000" stroke-width="3.3" stroke-linecap="round" stroke-dasharray="0 5.8920"/>
<rect transform="rotate(45)" x="338.03" y="-285.07" width="8.27" height="8.27" fill="#fff" stroke="#b0c3ea" stroke-width="1.45"/>
<line x1="415.3" y1="81.9" x2="463.5" y2="81.9" stroke="#000" stroke-width="3.2" stroke-linecap="round" stroke-dasharray="0 5.88"/>
<g font-family="'Liberation Serif', serif" font-size="19.55" fill="#000">
<text x="471.3" y="49.6">FCR-Stress (275 kPa)</text>
<text x="471.3" y="88.4">Linear (FCR-Stress (275 kPa))</text>
</g>
<g font-family="'Liberation Serif', serif" font-size="23.4" fill="#000" text-anchor="middle">
<text x="295.5" y="234.8">FCR (%) = -0.0124(σ) + 2.9795</text>
<text x="295.5" y="261.2">R² = 0.82</text>
</g>
<path d="M417.7,146C417.7,166 408,179 391,180.5C374,182 363,192 359.3,204.5" fill="none" stroke="#000" stroke-width="1.35"/>
<path d="M352.7,203.2L364.2,205.4L356.3,215.4Z" fill="#000"/>
<text x="387.6" y="398.1" font-family="'Liberation Serif', serif" font-size="19" text-anchor="middle" fill="#000">(<tspan font-weight="bold">b</tspan>)</text>
<rect x="97.8" y="427.1" width="630.1" height="286.3" fill="none" stroke="#000" stroke-width="3.5"/>
<path d="M90.6,427.1H105M92.4,435.3H97.8M92.4,443.5H97.8M92.4,451.6H97.8M92.4,459.8H97.8M90.6,468H105M92.4,476.2H97.8M92.4,484.4H97.8M92.4,492.5H97.8M92.4,500.7H97.8M90.6,508.9H105M92.4,517.1H97.8M92.4,525.3H97.8M92.4,533.4H97.8M92.4,541.6H97.8M90.6,549.8H105M92.4,558H97.8M92.4,566.2H97.8M92.4,574.3H97.8M92.4,582.5H97.8M90.6,590.7H105M92.4,598.9H97.8M92.4,607.1H97.8M92.4,615.2H97.8M92.4,623.4H97.8M90.6,631.6H105M92.4,639.8H97.8M92.4,648H97.8M92.4,656.1H97.8M92.4,664.3H97.8M90.6,672.5H105M92.4,680.7H97.8M92.4,688.9H97.8M92.4,697H97.8M92.4,705.2H97.8M90.6,713.4H105M97.8,706.2V720.4M118.9,713.4V718.8M139.9,713.4V718.8M160.9,713.4V718.8M181.9,713.4V718.8M202.9,706.2V720.4M223.9,713.4V718.8M244.9,713.4V718.8M265.9,713.4V718.8M286.9,713.4V718.8M307.9,706.2V720.4M328.9,713.4V718.8M349.9,713.4V718.8M370.9,713.4V718.8M391.9,713.4V718.8M412.9,706.2V720.4M433.9,713.4V718.8M454.9,713.4V718.8M475.9,713.4V718.8M496.9,713.4V718.8M517.9,706.2V720.4M539,713.4V718.8M560,713.4V718.8M581,713.4V718.8M602,713.4V718.8M623,706.2V720.4M644,713.4V718.8M665,713.4V718.8M686,713.4V718.8M707,713.4V718.8M728,706.2V720.4" stroke="#000" stroke-width="3.1" fill="none"/>
<g font-family="'Liberation Serif', serif" font-size="22.2" fill="#000">
<g text-anchor="end">
<text x="77" y="434.4">7</text>
<text x="77" y="475.3">6</text>
<text x="77" y="516.2">5</text>
<text x="77" y="557.1">4</text>
<text x="77" y="598">3</text>
<text x="77" y="638.9">2</text>
<text x="77" y="679.8">1</text>
<text x="77" y="720.7">0</text>
</g><g text-anchor="middle">
<text x="97.8" y="748.3">0</text>
<text x="202.9" y="748.3">100</text>
<text x="307.9" y="748.3">200</text>
<text x="412.9" y="748.3">300</text>
<text x="517.9" y="748.3">400</text>
<text x="623" y="748.3">500</text>
<text x="728" y="748.3">600</text>
</g></g>
<g font-family="'Liberation Serif', serif" font-size="23.4" fill="#000" text-anchor="middle">
<text x="412.9" y="782">Compressive cyclic stress, σ (kPa)</text>
<text transform="translate(56,570.2) rotate(-90)">FCR (%)</text>
</g>
<g transform="rotate(45)" fill="#fff" stroke="#c5e0b4" stroke-width="1.42">
<rect x="889.9" y="-16.3" width="9.76" height="9.76"/>
<rect x="884.4" y="-8.1" width="9.76" height="9.76"/>
<rect x="876.0" y="-1.1" width="9.76" height="9.76"/>
<rect x="863.1" y="4.0" width="9.76" height="9.76"/>
<rect x="852.7" y="13.3" width="9.76" height="9.76"/>
<rect x="843.0" y="18.9" width="9.76" height="9.76"/>
<rect x="833.3" y="24.4" width="9.76" height="9.76"/>
<rect x="823.4" y="32.0" width="9.76" height="9.76"/>
<rect x="813.2" y="37.0" width="9.76" height="9.76"/>
<rect x="804.7" y="47.3" width="9.76" height="9.76"/>
<rect x="795.2" y="52.9" width="9.76" height="9.76"/>
<rect x="784.3" y="59.7" width="9.76" height="9.76"/>
<rect x="771.1" y="64.7" width="9.76" height="9.76"/>
<rect x="763.9" y="73.1" width="9.76" height="9.76"/>
<rect x="753.0" y="77.1" width="9.76" height="9.76"/>
<rect x="742.5" y="86.1" width="9.76" height="9.76"/>
<rect x="733.8" y="92.5" width="9.76" height="9.76"/>
<rect x="727.3" y="101.8" width="9.76" height="9.76"/>
<rect x="717.1" y="106.1" width="9.76" height="9.76"/>
<rect x="706.2" y="112.9" width="9.76" height="9.76"/>
<rect x="697.1" y="121.3" width="9.76" height="9.76"/>
<rect x="683.0" y="127.1" width="9.76" height="9.76"/>
<rect x="673.0" y="136.2" width="9.76" height="9.76"/>
<rect x="661.5" y="143.6" width="9.76" height="9.76"/>
<rect x="651.4" y="153.4" width="9.76" height="9.76"/>
<rect x="638.4" y="159.2" width="9.76" height="9.76"/>
<rect x="629.3" y="167.8" width="9.76" height="9.76"/>
<rect x="617.5" y="173.7" width="9.76" height="9.76"/>
<rect x="607.4" y="181.7" width="9.76" height="9.76"/>
<rect x="597.9" y="187.6" width="9.76" height="9.76"/>
<rect x="586.1" y="195.4" width="9.76" height="9.76"/>
<rect x="579.0" y="204.4" width="9.76" height="9.76"/>
<rect x="569.1" y="211.9" width="9.76" height="9.76"/>
<rect x="559.5" y="216.8" width="9.76" height="9.76"/>
<rect x="549.0" y="226.1" width="9.76" height="9.76"/>
<rect x="538.9" y="232.5" width="9.76" height="9.76"/>
<rect x="529.8" y="238.1" width="9.76" height="9.76"/>
<rect x="519.8" y="245.1" width="9.76" height="9.76"/>
<rect x="509.6" y="249.7" width="9.76" height="9.76"/>
<rect x="500.9" y="259.0" width="9.76" height="9.76"/>
<rect x="488.4" y="265.4" width="9.76" height="9.76"/>
<rect x="477.8" y="270.4" width="9.76" height="9.76"/>
<rect x="468.5" y="278.6" width="9.76" height="9.76"/>
<rect x="458.0" y="283.1" width="9.76" height="9.76"/>
<rect x="450.3" y="291.0" width="9.76" height="9.76"/>
<rect x="436.9" y="296.9" width="9.76" height="9.76"/>
<rect x="885.3" y="-19.8" width="9.76" height="9.76"/>
<rect x="880.9" y="-16.3" width="9.76" height="9.76"/>
<rect x="873.8" y="-5.7" width="9.76" height="9.76"/>
<rect x="862.8" y="-2.2" width="9.76" height="9.76"/>
<rect x="855.0" y="6.4" width="9.76" height="9.76"/>
<rect x="846.9" y="12.8" width="9.76" height="9.76"/>
<rect x="836.4" y="18.6" width="9.76" height="9.76"/>
<rect x="828.1" y="25.0" width="9.76" height="9.76"/>
<rect x="816.1" y="29.2" width="9.76" height="9.76"/>
<rect x="807.3" y="40.6" width="9.76" height="9.76"/>
<rect x="793.2" y="47.2" width="9.76" height="9.76"/>
<rect x="783.7" y="53.3" width="9.76" height="9.76"/>
<rect x="774.4" y="60.3" width="9.76" height="9.76"/>
<rect x="765.4" y="67.0" width="9.76" height="9.76"/>
<rect x="751.7" y="73.3" width="9.76" height="9.76"/>
<rect x="740.1" y="82.3" width="9.76" height="9.76"/>
<rect x="729.4" y="91.7" width="9.76" height="9.76"/>
<rect x="718.8" y="98.5" width="9.76" height="9.76"/>
<rect x="710.8" y="107.0" width="9.76" height="9.76"/>
<rect x="699.0" y="111.2" width="9.76" height="9.76"/>
<rect x="689.1" y="118.4" width="9.76" height="9.76"/>
<rect x="677.6" y="126.7" width="9.76" height="9.76"/>
<rect x="668.8" y="135.8" width="9.76" height="9.76"/>
<rect x="658.4" y="140.2" width="9.76" height="9.76"/>
<rect x="650.7" y="147.7" width="9.76" height="9.76"/>
<rect x="641.1" y="155.5" width="9.76" height="9.76"/>
<rect x="630.4" y="161.3" width="9.76" height="9.76"/>
<rect x="621.0" y="170.3" width="9.76" height="9.76"/>
<rect x="606.2" y="175.7" width="9.76" height="9.76"/>
<rect x="595.7" y="182.4" width="9.76" height="9.76"/>
<rect x="586.2" y="193.0" width="9.76" height="9.76"/>
<rect x="572.5" y="199.5" width="9.76" height="9.76"/>
<rect x="560.1" y="207.3" width="9.76" height="9.76"/>
<rect x="553.2" y="216.0" width="9.76" height="9.76"/>
<rect x="544.5" y="221.8" width="9.76" height="9.76"/>
<rect x="533.7" y="226.3" width="9.76" height="9.76"/>
<rect x="525.0" y="233.0" width="9.76" height="9.76"/>
<rect x="515.0" y="238.2" width="9.76" height="9.76"/>
<rect x="504.8" y="244.4" width="9.76" height="9.76"/>
<rect x="494.8" y="253.6" width="9.76" height="9.76"/>
<rect x="484.9" y="260.0" width="9.76" height="9.76"/>
<rect x="472.8" y="268.2" width="9.76" height="9.76"/>
<rect x="461.5" y="272.1" width="9.76" height="9.76"/>
<rect x="450.7" y="282.0" width="9.76" height="9.76"/>
<rect x="439.1" y="289.2" width="9.76" height="9.76"/>
<rect x="884.9" y="-23.9" width="9.76" height="9.76"/>
<rect x="878.8" y="-21.3" width="9.76" height="9.76"/>
<rect x="871.2" y="-14.3" width="9.76" height="9.76"/>
<rect x="861.4" y="-3.4" width="9.76" height="9.76"/>
<rect x="850.6" y="1.1" width="9.76" height="9.76"/>
<rect x="841.2" y="8.6" width="9.76" height="9.76"/>
<rect x="829.1" y="16.9" width="9.76" height="9.76"/>
<rect x="817.3" y="23.0" width="9.76" height="9.76"/>
<rect x="805.3" y="31.5" width="9.76" height="9.76"/>
<rect x="797.1" y="40.2" width="9.76" height="9.76"/>
<rect x="789.5" y="47.3" width="9.76" height="9.76"/>
<rect x="776.1" y="54.3" width="9.76" height="9.76"/>
<rect x="764.2" y="62.3" width="9.76" height="9.76"/>
<rect x="754.1" y="66.9" width="9.76" height="9.76"/>
<rect x="745.4" y="73.7" width="9.76" height="9.76"/>
<rect x="737.3" y="80.3" width="9.76" height="9.76"/>
<rect x="727.5" y="90.9" width="9.76" height="9.76"/>
<rect x="716.6" y="99.2" width="9.76" height="9.76"/>
<rect x="705.7" y="105.4" width="9.76" height="9.76"/>
<rect x="695.4" y="111.1" width="9.76" height="9.76"/>
<rect x="685.9" y="119.1" width="9.76" height="9.76"/>
<rect x="671.7" y="125.5" width="9.76" height="9.76"/>
<rect x="664.5" y="132.8" width="9.76" height="9.76"/>
<rect x="654.7" y="139.6" width="9.76" height="9.76"/>
<rect x="646.2" y="146.4" width="9.76" height="9.76"/>
<rect x="633.2" y="151.9" width="9.76" height="9.76"/>
<rect x="626.2" y="161.6" width="9.76" height="9.76"/>
<rect x="615.1" y="165.1" width="9.76" height="9.76"/>
<rect x="605.0" y="172.7" width="9.76" height="9.76"/>
<rect x="593.7" y="179.3" width="9.76" height="9.76"/>
<rect x="582.0" y="186.4" width="9.76" height="9.76"/>
<rect x="572.9" y="192.9" width="9.76" height="9.76"/>
<rect x="563.1" y="201.2" width="9.76" height="9.76"/>
<rect x="554.0" y="209.8" width="9.76" height="9.76"/>
<rect x="541.1" y="217.0" width="9.76" height="9.76"/>
<rect x="531.9" y="223.6" width="9.76" height="9.76"/>
<rect x="517.5" y="228.7" width="9.76" height="9.76"/>
<rect x="508.9" y="237.4" width="9.76" height="9.76"/>
<rect x="495.7" y="243.2" width="9.76" height="9.76"/>
<rect x="486.7" y="249.9" width="9.76" height="9.76"/>
<rect x="475.5" y="257.4" width="9.76" height="9.76"/>
<rect x="467.0" y="264.8" width="9.76" height="9.76"/>
<rect x="453.1" y="270.0" width="9.76" height="9.76"/>
<rect x="441.9" y="278.2" width="9.76" height="9.76"/>
<rect x="431.6" y="282.8" width="9.76" height="9.76"/>
<rect x="879.5" y="-26.4" width="9.76" height="9.76"/>
<rect x="871.8" y="-20.4" width="9.76" height="9.76"/>
<rect x="861.6" y="-10.7" width="9.76" height="9.76"/>
<rect x="847.4" y="-5.3" width="9.76" height="9.76"/>
<rect x="837.9" y="5.2" width="9.76" height="9.76"/>
<rect x="826.1" y="11.5" width="9.76" height="9.76"/>
<rect x="815.5" y="16.9" width="9.76" height="9.76"/>
<rect x="808.8" y="26.4" width="9.76" height="9.76"/>
<rect x="797.0" y="34.6" width="9.76" height="9.76"/>
<rect x="785.5" y="41.9" width="9.76" height="9.76"/>
<rect x="774.1" y="50.4" width="9.76" height="9.76"/>
<rect x="764.7" y="57.4" width="9.76" height="9.76"/>
<rect x="754.4" y="66.6" width="9.76" height="9.76"/>
<rect x="741.8" y="72.3" width="9.76" height="9.76"/>
<rect x="731.9" y="82.0" width="9.76" height="9.76"/>
<rect x="718.2" y="88.8" width="9.76" height="9.76"/>
<rect x="710.0" y="96.8" width="9.76" height="9.76"/>
<rect x="699.5" y="105.6" width="9.76" height="9.76"/>
<rect x="686.1" y="111.6" width="9.76" height="9.76"/>
<rect x="677.0" y="119.6" width="9.76" height="9.76"/>
<rect x="665.4" y="126.4" width="9.76" height="9.76"/>
<rect x="653.0" y="133.4" width="9.76" height="9.76"/>
<rect x="642.7" y="141.8" width="9.76" height="9.76"/>
<rect x="631.8" y="148.8" width="9.76" height="9.76"/>
<rect x="623.4" y="155.3" width="9.76" height="9.76"/>
<rect x="610.8" y="162.4" width="9.76" height="9.76"/>
<rect x="599.6" y="170.2" width="9.76" height="9.76"/>
<rect x="591.8" y="177.3" width="9.76" height="9.76"/>
<rect x="578.3" y="182.2" width="9.76" height="9.76"/>
<rect x="571.9" y="190.3" width="9.76" height="9.76"/>
<rect x="558.3" y="197.2" width="9.76" height="9.76"/>
<rect x="546.8" y="206.0" width="9.76" height="9.76"/>
<rect x="536.0" y="214.1" width="9.76" height="9.76"/>
<rect x="526.9" y="219.9" width="9.76" height="9.76"/>
<rect x="514.2" y="226.9" width="9.76" height="9.76"/>
<rect x="499.7" y="231.7" width="9.76" height="9.76"/>
<rect x="492.3" y="239.8" width="9.76" height="9.76"/>
<rect x="482.3" y="245.8" width="9.76" height="9.76"/>
<rect x="471.5" y="249.5" width="9.76" height="9.76"/>
<rect x="459.4" y="257.2" width="9.76" height="9.76"/>
<rect x="447.0" y="265.3" width="9.76" height="9.76"/>
<rect x="434.4" y="271.4" width="9.76" height="9.76"/>
<rect x="425.4" y="276.9" width="9.76" height="9.76"/>
<rect x="873.9" y="-30.1" width="9.76" height="9.76"/>
<rect x="866.3" y="-20.4" width="9.76" height="9.76"/>
<rect x="853.6" y="-12.8" width="9.76" height="9.76"/>
<rect x="841.6" y="-8.0" width="9.76" height="9.76"/>
<rect x="834.2" y="1.9" width="9.76" height="9.76"/>
<rect x="823.4" y="9.1" width="9.76" height="9.76"/>
<rect x="812.4" y="13.2" width="9.76" height="9.76"/>
<rect x="802.4" y="21.2" width="9.76" height="9.76"/>
<rect x="793.1" y="32.1" width="9.76" height="9.76"/>
<rect x="782.3" y="38.5" width="9.76" height="9.76"/>
<rect x="772.5" y="45.6" width="9.76" height="9.76"/>
<rect x="763.7" y="52.9" width="9.76" height="9.76"/>
<rect x="753.2" y="61.7" width="9.76" height="9.76"/>
<rect x="743.0" y="68.3" width="9.76" height="9.76"/>
<rect x="732.0" y="77.4" width="9.76" height="9.76"/>
<rect x="721.9" y="81.8" width="9.76" height="9.76"/>
<rect x="714.9" y="90.0" width="9.76" height="9.76"/>
<rect x="704.2" y="96.5" width="9.76" height="9.76"/>
<rect x="694.7" y="102.7" width="9.76" height="9.76"/>
<rect x="683.9" y="110.0" width="9.76" height="9.76"/>
<rect x="673.0" y="117.5" width="9.76" height="9.76"/>
<rect x="663.1" y="125.9" width="9.76" height="9.76"/>
<rect x="650.6" y="132.7" width="9.76" height="9.76"/>
<rect x="640.4" y="140.7" width="9.76" height="9.76"/>
<rect x="628.2" y="144.1" width="9.76" height="9.76"/>
<rect x="618.6" y="150.8" width="9.76" height="9.76"/>
<rect x="610.7" y="160.7" width="9.76" height="9.76"/>
<rect x="596.4" y="165.4" width="9.76" height="9.76"/>
<rect x="586.2" y="174.4" width="9.76" height="9.76"/>
<rect x="574.3" y="180.6" width="9.76" height="9.76"/>
<rect x="564.6" y="187.3" width="9.76" height="9.76"/>
<rect x="553.9" y="196.0" width="9.76" height="9.76"/>
<rect x="541.1" y="203.7" width="9.76" height="9.76"/>
<rect x="531.3" y="210.0" width="9.76" height="9.76"/>
<rect x="521.4" y="217.1" width="9.76" height="9.76"/>
<rect x="510.8" y="222.7" width="9.76" height="9.76"/>
<rect x="497.6" y="227.4" width="9.76" height="9.76"/>
<rect x="486.2" y="233.1" width="9.76" height="9.76"/>
<rect x="475.1" y="241.2" width="9.76" height="9.76"/>
<rect x="463.9" y="247.5" width="9.76" height="9.76"/>
<rect x="451.9" y="255.2" width="9.76" height="9.76"/>
<rect x="441.7" y="263.3" width="9.76" height="9.76"/>
<rect x="432.3" y="268.6" width="9.76" height="9.76"/>
<rect x="419.8" y="273.5" width="9.76" height="9.76"/>
<rect x="873.6" y="-35.1" width="9.76" height="9.76"/>
<rect x="861.4" y="-29.0" width="9.76" height="9.76"/>
<rect x="853.2" y="-18.9" width="9.76" height="9.76"/>
<rect x="845.3" y="-11.9" width="9.76" height="9.76"/>
<rect x="833.3" y="-6.9" width="9.76" height="9.76"/>
<rect x="822.7" y="2.2" width="9.76" height="9.76"/>
<rect x="812.1" y="9.5" width="9.76" height="9.76"/>
<rect x="799.7" y="16.8" width="9.76" height="9.76"/>
<rect x="790.6" y="27.6" width="9.76" height="9.76"/>
<rect x="780.7" y="35.1" width="9.76" height="9.76"/>
<rect x="771.8" y="41.6" width="9.76" height="9.76"/>
<rect x="763.3" y="47.8" width="9.76" height="9.76"/>
<rect x="753.6" y="53.3" width="9.76" height="9.76"/>
<rect x="745.3" y="61.1" width="9.76" height="9.76"/>
<rect x="733.6" y="69.4" width="9.76" height="9.76"/>
<rect x="723.1" y="78.0" width="9.76" height="9.76"/>
<rect x="711.2" y="84.8" width="9.76" height="9.76"/>
<rect x="701.2" y="94.4" width="9.76" height="9.76"/>
<rect x="688.7" y="102.0" width="9.76" height="9.76"/>
<rect x="677.0" y="109.6" width="9.76" height="9.76"/>
<rect x="664.0" y="116.6" width="9.76" height="9.76"/>
<rect x="654.6" y="126.5" width="9.76" height="9.76"/>
<rect x="643.5" y="130.8" width="9.76" height="9.76"/>
<rect x="631.4" y="137.9" width="9.76" height="9.76"/>
<rect x="621.7" y="143.6" width="9.76" height="9.76"/>
<rect x="613.9" y="151.7" width="9.76" height="9.76"/>
<rect x="599.6" y="157.8" width="9.76" height="9.76"/>
<rect x="592.6" y="165.3" width="9.76" height="9.76"/>
<rect x="578.8" y="171.1" width="9.76" height="9.76"/>
<rect x="569.5" y="181.2" width="9.76" height="9.76"/>
<rect x="555.0" y="186.3" width="9.76" height="9.76"/>
<rect x="545.6" y="196.7" width="9.76" height="9.76"/>
<rect x="534.7" y="202.4" width="9.76" height="9.76"/>
<rect x="522.4" y="208.5" width="9.76" height="9.76"/>
<rect x="510.5" y="214.0" width="9.76" height="9.76"/>
<rect x="499.6" y="219.0" width="9.76" height="9.76"/>
<rect x="485.9" y="224.3" width="9.76" height="9.76"/>
<rect x="477.6" y="231.5" width="9.76" height="9.76"/>
<rect x="467.3" y="237.2" width="9.76" height="9.76"/>
<rect x="459.1" y="245.0" width="9.76" height="9.76"/>
<rect x="448.9" y="251.5" width="9.76" height="9.76"/>
<rect x="438.5" y="256.2" width="9.76" height="9.76"/>
<rect x="427.3" y="261.3" width="9.76" height="9.76"/>
<rect x="415.5" y="269.0" width="9.76" height="9.76"/>
<rect x="869.9" y="-37.9" width="9.76" height="9.76"/>
<rect x="860.1" y="-32.6" width="9.76" height="9.76"/>
<rect x="851.1" y="-23.2" width="9.76" height="9.76"/>
<rect x="837.5" y="-17.5" width="9.76" height="9.76"/>
<rect x="828.9" y="-10.3" width="9.76" height="9.76"/>
<rect x="817.2" y="-2.7" width="9.76" height="9.76"/>
<rect x="809.7" y="7.5" width="9.76" height="9.76"/>
<rect x="797.1" y="14.0" width="9.76" height="9.76"/>
<rect x="788.9" y="21.9" width="9.76" height="9.76"/>
<rect x="778.8" y="30.6" width="9.76" height="9.76"/>
<rect x="767.9" y="36.7" width="9.76" height="9.76"/>
<rect x="759.0" y="44.7" width="9.76" height="9.76"/>
<rect x="750.7" y="51.1" width="9.76" height="9.76"/>
<rect x="738.1" y="59.2" width="9.76" height="9.76"/>
<rect x="728.2" y="68.4" width="9.76" height="9.76"/>
<rect x="717.0" y="75.9" width="9.76" height="9.76"/>
<rect x="705.6" y="84.9" width="9.76" height="9.76"/>
<rect x="696.2" y="93.2" width="9.76" height="9.76"/>
<rect x="684.2" y="99.5" width="9.76" height="9.76"/>
<rect x="672.9" y="107.2" width="9.76" height="9.76"/>
<rect x="661.0" y="113.3" width="9.76" height="9.76"/>
<rect x="652.9" y="122.9" width="9.76" height="9.76"/>
<rect x="638.7" y="128.0" width="9.76" height="9.76"/>
<rect x="627.3" y="134.4" width="9.76" height="9.76"/>
<rect x="616.2" y="143.8" width="9.76" height="9.76"/>
<rect x="607.0" y="151.4" width="9.76" height="9.76"/>
<rect x="593.9" y="156.9" width="9.76" height="9.76"/>
<rect x="582.8" y="166.0" width="9.76" height="9.76"/>
<rect x="572.1" y="172.3" width="9.76" height="9.76"/>
<rect x="561.0" y="178.4" width="9.76" height="9.76"/>
<rect x="551.9" y="185.3" width="9.76" height="9.76"/>
<rect x="540.7" y="192.9" width="9.76" height="9.76"/>
<rect x="528.1" y="197.3" width="9.76" height="9.76"/>
<rect x="517.0" y="204.7" width="9.76" height="9.76"/>
<rect x="506.5" y="211.3" width="9.76" height="9.76"/>
<rect x="494.0" y="217.6" width="9.76" height="9.76"/>
<rect x="481.0" y="223.4" width="9.76" height="9.76"/>
<rect x="468.2" y="230.5" width="9.76" height="9.76"/>
<rect x="457.5" y="235.6" width="9.76" height="9.76"/>
<rect x="446.6" y="243.8" width="9.76" height="9.76"/>
<rect x="436.7" y="251.1" width="9.76" height="9.76"/>
<rect x="422.3" y="255.6" width="9.76" height="9.76"/>
<rect x="408.9" y="260.5" width="9.76" height="9.76"/>
<rect x="863.5" y="-40.3" width="9.76" height="9.76"/>
<rect x="851.5" y="-32.9" width="9.76" height="9.76"/>
<rect x="843.4" y="-26.4" width="9.76" height="9.76"/>
<rect x="833.1" y="-21.0" width="9.76" height="9.76"/>
<rect x="822.5" y="-13.3" width="9.76" height="9.76"/>
<rect x="814.3" y="-4.3" width="9.76" height="9.76"/>
<rect x="804.7" y="5.4" width="9.76" height="9.76"/>
<rect x="792.9" y="10.5" width="9.76" height="9.76"/>
<rect x="782.1" y="20.1" width="9.76" height="9.76"/>
<rect x="774.4" y="31.4" width="9.76" height="9.76"/>
<rect x="763.6" y="36.2" width="9.76" height="9.76"/>
<rect x="755.4" y="43.4" width="9.76" height="9.76"/>
<rect x="745.2" y="49.6" width="9.76" height="9.76"/>
<rect x="736.1" y="55.9" width="9.76" height="9.76"/>
<rect x="726.8" y="66.3" width="9.76" height="9.76"/>
<rect x="715.9" y="71.7" width="9.76" height="9.76"/>
<rect x="708.7" y="80.4" width="9.76" height="9.76"/>
<rect x="696.0" y="85.0" width="9.76" height="9.76"/>
<rect x="687.2" y="94.2" width="9.76" height="9.76"/>
<rect x="675.0" y="99.2" width="9.76" height="9.76"/>
<rect x="665.2" y="108.4" width="9.76" height="9.76"/>
<rect x="651.8" y="114.8" width="9.76" height="9.76"/>
<rect x="642.4" y="121.7" width="9.76" height="9.76"/>
<rect x="632.2" y="130.0" width="9.76" height="9.76"/>
<rect x="619.7" y="136.6" width="9.76" height="9.76"/>
<rect x="608.1" y="142.4" width="9.76" height="9.76"/>
<rect x="596.5" y="150.7" width="9.76" height="9.76"/>
<rect x="587.4" y="159.2" width="9.76" height="9.76"/>
<rect x="575.1" y="162.9" width="9.76" height="9.76"/>
<rect x="568.2" y="170.5" width="9.76" height="9.76"/>
<rect x="559.0" y="176.3" width="9.76" height="9.76"/>
<rect x="547.1" y="181.2" width="9.76" height="9.76"/>
<rect x="537.3" y="188.1" width="9.76" height="9.76"/>
<rect x="525.5" y="195.6" width="9.76" height="9.76"/>
<rect x="511.1" y="200.5" width="9.76" height="9.76"/>
<rect x="498.6" y="206.4" width="9.76" height="9.76"/>
<rect x="487.7" y="213.1" width="9.76" height="9.76"/>
<rect x="475.4" y="216.5" width="9.76" height="9.76"/>
<rect x="462.3" y="223.8" width="9.76" height="9.76"/>
<rect x="450.6" y="231.7" width="9.76" height="9.76"/>
<rect x="439.6" y="238.2" width="9.76" height="9.76"/>
<rect x="428.0" y="246.0" width="9.76" height="9.76"/>
<rect x="414.2" y="249.6" width="9.76" height="9.76"/>
<rect x="403.3" y="259.3" width="9.76" height="9.76"/>
<rect x="867.1" y="-50.7" width="9.76" height="9.76"/>
<rect x="865.1" y="-46.6" width="9.76" height="9.76"/>
<rect x="854.4" y="-41.6" width="9.76" height="9.76"/>
<rect x="843.4" y="-33.7" width="9.76" height="9.76"/>
<rect x="832.6" y="-25.3" width="9.76" height="9.76"/>
<rect x="821.0" y="-19.8" width="9.76" height="9.76"/>
<rect x="813.2" y="-9.4" width="9.76" height="9.76"/>
<rect x="804.1" y="-0.9" width="9.76" height="9.76"/>
<rect x="793.6" y="4.9" width="9.76" height="9.76"/>
<rect x="783.4" y="13.7" width="9.76" height="9.76"/>
<rect x="774.3" y="20.5" width="9.76" height="9.76"/>
<rect x="765.7" y="29.0" width="9.76" height="9.76"/>
<rect x="758.3" y="37.3" width="9.76" height="9.76"/>
<rect x="747.8" y="41.8" width="9.76" height="9.76"/>
<rect x="740.2" y="50.4" width="9.76" height="9.76"/>
<rect x="729.2" y="59.0" width="9.76" height="9.76"/>
<rect x="719.0" y="68.2" width="9.76" height="9.76"/>
<rect x="708.1" y="72.0" width="9.76" height="9.76"/>
<rect x="698.8" y="78.3" width="9.76" height="9.76"/>
<rect x="689.1" y="89.0" width="9.76" height="9.76"/>
<rect x="674.5" y="94.3" width="9.76" height="9.76"/>
<rect x="664.9" y="104.6" width="9.76" height="9.76"/>
<rect x="651.7" y="111.0" width="9.76" height="9.76"/>
<rect x="639.7" y="117.1" width="9.76" height="9.76"/>
<rect x="629.8" y="126.3" width="9.76" height="9.76"/>
<rect x="618.3" y="133.1" width="9.76" height="9.76"/>
<rect x="607.1" y="136.6" width="9.76" height="9.76"/>
<rect x="598.8" y="143.6" width="9.76" height="9.76"/>
<rect x="585.8" y="150.8" width="9.76" height="9.76"/>
<rect x="576.8" y="156.3" width="9.76" height="9.76"/>
<rect x="563.9" y="163.5" width="9.76" height="9.76"/>
<rect x="553.0" y="170.9" width="9.76" height="9.76"/>
<rect x="543.8" y="178.1" width="9.76" height="9.76"/>
<rect x="531.4" y="184.7" width="9.76" height="9.76"/>
<rect x="519.8" y="192.9" width="9.76" height="9.76"/>
<rect x="506.0" y="198.7" width="9.76" height="9.76"/>
<rect x="492.1" y="205.4" width="9.76" height="9.76"/>
<rect x="477.9" y="210.0" width="9.76" height="9.76"/>
<rect x="463.3" y="215.5" width="9.76" height="9.76"/>
<rect x="454.7" y="223.3" width="9.76" height="9.76"/>
<rect x="444.6" y="229.6" width="9.76" height="9.76"/>
<rect x="432.0" y="237.4" width="9.76" height="9.76"/>
<rect x="420.1" y="241.4" width="9.76" height="9.76"/>
<rect x="411.4" y="247.1" width="9.76" height="9.76"/>
<rect x="400.6" y="252.1" width="9.76" height="9.76"/>
</g>
<line x1="98.3" y1="501.76" x2="646.16" y2="610.63" stroke="#ff1c00" stroke-opacity="0.42" stroke-width="7.4" stroke-linecap="butt" filter="url(#glow)"/>
<line x1="101.50" y1="502.40" x2="644.49" y2="610.30" stroke="#000" stroke-width="3.3" stroke-linecap="round" stroke-dasharray="0 5.8841"/>
<rect transform="rotate(45)" x="610.62" y="22.87" width="8.27" height="8.27" fill="#fff" stroke="#c5e0b4" stroke-width="1.45"/>
<line x1="391.3" y1="479.2" x2="439.5" y2="479.2" stroke="#000" stroke-width="3.2" stroke-linecap="round" stroke-dasharray="0 5.88"/>
<g font-family="'Liberation Serif', serif" font-size="19.55" fill="#000">
<text x="446.5" y="460.4">FCR-Stress (527 kPa)</text>
<text x="446.5" y="485.3">Linear (FCR-Stress (527 kPa))</text>
</g>
<g font-family="'Liberation Serif', serif" font-size="23.4" fill="#000" text-anchor="middle">
<text x="282.2" y="662.8">FCR (%) = -0.0051(σ) + 5.1613</text>
<text x="282.2" y="689.6">R² = 0.84</text>
</g>
<path d="M409,571.2C409,592 400,606.5 383.5,608.2C368,610 361,622 358.9,635" fill="none" stroke="#000" stroke-width="1.35"/>
<path d="M352.9,633.9L364.6,635.4L357,646Z" fill="#000"/>
<text x="387.6" y="833.3" font-family="'Liberation Serif', serif" font-size="19" text-anchor="middle" fill="#000">(<tspan font-weight="bold">c</tspan>)</text>
<rect x="88" y="860.6" width="662.5" height="265.2" fill="none" stroke="#000" stroke-width="3.5"/>
<path d="M80.8,860.6H95.2M82.6,866.1H88M82.6,871.6H88M82.6,877.2H88M82.6,882.7H88M82.6,888.2H88M80.8,893.8H95.2M82.6,899.3H88M82.6,904.8H88M82.6,910.3H88M82.6,915.9H88M82.6,921.4H88M80.8,926.9H95.2M82.6,932.4H88M82.6,937.9H88M82.6,943.5H88M82.6,949H88M82.6,954.5H88M80.8,960H95.2M82.6,965.6H88M82.6,971.1H88M82.6,976.6H88M82.6,982.1H88M82.6,987.7H88M80.8,993.2H95.2M82.6,998.7H88M82.6,1004.2H88M82.6,1009.8H88M82.6,1015.3H88M82.6,1020.8H88M80.8,1026.3H95.2M82.6,1031.9H88M82.6,1037.4H88M82.6,1042.9H88M82.6,1048.4H88M82.6,1054H88M80.8,1059.5H95.2M82.6,1065H88M82.6,1070.5H88M82.6,1076.1H88M82.6,1081.6H88M82.6,1087.1H88M80.8,1092.7H95.2M82.6,1098.2H88M82.6,1103.7H88M82.6,1109.2H88M82.6,1114.8H88M82.6,1120.3H88M80.8,1125.8H95.2M88,1118.6V1132.8M110.1,1125.8V1131.2M132.2,1125.8V1131.2M154.2,1125.8V1131.2M176.3,1125.8V1131.2M198.4,1118.6V1132.8M220.5,1125.8V1131.2M242.6,1125.8V1131.2M264.7,1125.8V1131.2M286.8,1125.8V1131.2M308.8,1118.6V1132.8M330.9,1125.8V1131.2M353,1125.8V1131.2M375.1,1125.8V1131.2M397.2,1125.8V1131.2M419.2,1118.6V1132.8M441.3,1125.8V1131.2M463.4,1125.8V1131.2M485.5,1125.8V1131.2M507.6,1125.8V1131.2M529.7,1118.6V1132.8M551.8,1125.8V1131.2M573.8,1125.8V1131.2M595.9,1125.8V1131.2M618,1125.8V1131.2M640.1,1118.6V1132.8M662.2,1125.8V1131.2M684.2,1125.8V1131.2M706.3,1125.8V1131.2M728.4,1125.8V1131.2M750.5,1118.6V1132.8" stroke="#000" stroke-width="3.1" fill="none"/>
<g font-family="'Liberation Serif', serif" font-size="22.2" fill="#000">
<g text-anchor="end">
<text x="67.2" y="867.9">4</text>
<text x="67.2" y="901">2</text>
<text x="67.2" y="934.2">0</text>
<text x="67.2" y="967.3">-2</text>
<text x="67.2" y="1000.5">-4</text>
<text x="67.2" y="1033.6">-6</text>
<text x="67.2" y="1066.8">-8</text>
<text x="67.2" y="1100">-10</text>
<text x="67.2" y="1133.1">-12</text>
</g><g text-anchor="middle">
<text x="88" y="1159.6">0</text>
<text x="198.4" y="1159.6">200</text>
<text x="308.8" y="1159.6">400</text>
<text x="419.2" y="1159.6">600</text>
<text x="529.7" y="1159.6">800</text>
<text x="640.1" y="1159.6">1000</text>
<text x="750.5" y="1159.6">1200</text>
</g></g>
<g font-family="'Liberation Serif', serif" font-size="23.4" fill="#000" text-anchor="middle">
<text x="419.2" y="1193">Compressive cyclic stress, σ (kPa)</text>
<text transform="translate(26.5,993.2) rotate(-90)">FCR (%)</text>
</g>
<g transform="rotate(45)" fill="#fff" stroke="#ffebb8" stroke-width="1.42">
<rect x="1213.9" y="309.6" width="9.76" height="9.76"/>
<rect x="1204.3" y="316.0" width="9.76" height="9.76"/>
<rect x="1195.9" y="323.4" width="9.76" height="9.76"/>
<rect x="1184.5" y="332.4" width="9.76" height="9.76"/>
<rect x="1173.2" y="338.1" width="9.76" height="9.76"/>
<rect x="1164.9" y="344.5" width="9.76" height="9.76"/>
<rect x="1153.5" y="350.0" width="9.76" height="9.76"/>
<rect x="1145.0" y="356.3" width="9.76" height="9.76"/>
<rect x="1136.6" y="362.9" width="9.76" height="9.76"/>
<rect x="1125.5" y="368.3" width="9.76" height="9.76"/>
<rect x="1113.6" y="375.8" width="9.76" height="9.76"/>
<rect x="1102.8" y="383.4" width="9.76" height="9.76"/>
<rect x="1089.4" y="390.6" width="9.76" height="9.76"/>
<rect x="1076.8" y="397.3" width="9.76" height="9.76"/>
<rect x="1070.7" y="406.6" width="9.76" height="9.76"/>
<rect x="1057.2" y="412.1" width="9.76" height="9.76"/>
<rect x="1048.3" y="418.6" width="9.76" height="9.76"/>
<rect x="1034.8" y="425.4" width="9.76" height="9.76"/>
<rect x="1024.5" y="433.0" width="9.76" height="9.76"/>
<rect x="1014.3" y="437.5" width="9.76" height="9.76"/>
<rect x="1005.2" y="442.9" width="9.76" height="9.76"/>
<rect x="994.5" y="451.4" width="9.76" height="9.76"/>
<rect x="982.8" y="460.4" width="9.76" height="9.76"/>
<rect x="971.9" y="468.7" width="9.76" height="9.76"/>
<rect x="958.9" y="473.1" width="9.76" height="9.76"/>
<rect x="951.8" y="481.2" width="9.76" height="9.76"/>
<rect x="938.0" y="485.1" width="9.76" height="9.76"/>
<rect x="929.0" y="493.4" width="9.76" height="9.76"/>
<rect x="914.5" y="498.1" width="9.76" height="9.76"/>
<rect x="903.5" y="506.4" width="9.76" height="9.76"/>
<rect x="890.1" y="511.8" width="9.76" height="9.76"/>
<rect x="878.7" y="519.5" width="9.76" height="9.76"/>
<rect x="868.5" y="527.5" width="9.76" height="9.76"/>
<rect x="856.5" y="533.3" width="9.76" height="9.76"/>
<rect x="844.2" y="538.9" width="9.76" height="9.76"/>
<rect x="830.1" y="544.3" width="9.76" height="9.76"/>
<rect x="817.5" y="550.9" width="9.76" height="9.76"/>
<rect x="807.5" y="556.3" width="9.76" height="9.76"/>
<rect x="799.1" y="564.3" width="9.76" height="9.76"/>
<rect x="786.0" y="569.5" width="9.76" height="9.76"/>
<rect x="775.2" y="579.2" width="9.76" height="9.76"/>
<rect x="761.2" y="585.5" width="9.76" height="9.76"/>
<rect x="751.5" y="593.1" width="9.76" height="9.76"/>
<rect x="740.7" y="600.5" width="9.76" height="9.76"/>
<rect x="1209.4" y="303.3" width="9.76" height="9.76"/>
<rect x="1200.9" y="309.5" width="9.76" height="9.76"/>
<rect x="1189.9" y="317.1" width="9.76" height="9.76"/>
<rect x="1179.9" y="325.7" width="9.76" height="9.76"/>
<rect x="1168.5" y="330.6" width="9.76" height="9.76"/>
<rect x="1157.3" y="339.7" width="9.76" height="9.76"/>
<rect x="1144.7" y="347.0" width="9.76" height="9.76"/>
<rect x="1134.3" y="352.2" width="9.76" height="9.76"/>
<rect x="1126.8" y="361.2" width="9.76" height="9.76"/>
<rect x="1112.8" y="366.7" width="9.76" height="9.76"/>
<rect x="1104.7" y="376.8" width="9.76" height="9.76"/>
<rect x="1090.8" y="381.9" width="9.76" height="9.76"/>
<rect x="1081.5" y="391.1" width="9.76" height="9.76"/>
<rect x="1068.4" y="396.2" width="9.76" height="9.76"/>
<rect x="1058.8" y="403.5" width="9.76" height="9.76"/>
<rect x="1047.6" y="411.1" width="9.76" height="9.76"/>
<rect x="1037.2" y="416.1" width="9.76" height="9.76"/>
<rect x="1028.0" y="422.8" width="9.76" height="9.76"/>
<rect x="1016.2" y="431.2" width="9.76" height="9.76"/>
<rect x="1008.3" y="438.1" width="9.76" height="9.76"/>
<rect x="997.8" y="444.7" width="9.76" height="9.76"/>
<rect x="988.8" y="452.3" width="9.76" height="9.76"/>
<rect x="975.7" y="457.2" width="9.76" height="9.76"/>
<rect x="967.8" y="464.2" width="9.76" height="9.76"/>
<rect x="954.4" y="471.0" width="9.76" height="9.76"/>
<rect x="941.8" y="478.7" width="9.76" height="9.76"/>
<rect x="928.8" y="484.6" width="9.76" height="9.76"/>
<rect x="917.6" y="489.7" width="9.76" height="9.76"/>
<rect x="908.3" y="495.9" width="9.76" height="9.76"/>
<rect x="897.3" y="502.8" width="9.76" height="9.76"/>
<rect x="887.7" y="510.6" width="9.76" height="9.76"/>
<rect x="876.6" y="513.8" width="9.76" height="9.76"/>
<rect x="866.7" y="520.5" width="9.76" height="9.76"/>
<rect x="856.7" y="526.5" width="9.76" height="9.76"/>
<rect x="847.1" y="534.2" width="9.76" height="9.76"/>
<rect x="834.1" y="537.6" width="9.76" height="9.76"/>
<rect x="824.3" y="542.6" width="9.76" height="9.76"/>
<rect x="812.3" y="548.5" width="9.76" height="9.76"/>
<rect x="800.9" y="555.5" width="9.76" height="9.76"/>
<rect x="789.8" y="563.4" width="9.76" height="9.76"/>
<rect x="779.6" y="569.5" width="9.76" height="9.76"/>
<rect x="767.7" y="577.9" width="9.76" height="9.76"/>
<rect x="753.9" y="583.5" width="9.76" height="9.76"/>
<rect x="744.4" y="590.7" width="9.76" height="9.76"/>
<rect x="733.1" y="597.8" width="9.76" height="9.76"/>
<rect x="1208.2" y="295.1" width="9.76" height="9.76"/>
<rect x="1201.8" y="302.5" width="9.76" height="9.76"/>
<rect x="1190.3" y="308.6" width="9.76" height="9.76"/>
<rect x="1180.5" y="314.9" width="9.76" height="9.76"/>
<rect x="1170.3" y="320.8" width="9.76" height="9.76"/>
<rect x="1158.8" y="327.9" width="9.76" height="9.76"/>
<rect x="1152.4" y="336.2" width="9.76" height="9.76"/>
<rect x="1138.8" y="339.9" width="9.76" height="9.76"/>
<rect x="1130.9" y="348.5" width="9.76" height="9.76"/>
<rect x="1121.7" y="353.7" width="9.76" height="9.76"/>
<rect x="1112.5" y="361.3" width="9.76" height="9.76"/>
<rect x="1101.6" y="367.7" width="9.76" height="9.76"/>
<rect x="1091.3" y="372.9" width="9.76" height="9.76"/>
<rect x="1083.0" y="382.7" width="9.76" height="9.76"/>
<rect x="1071.6" y="387.1" width="9.76" height="9.76"/>
<rect x="1063.7" y="394.0" width="9.76" height="9.76"/>
<rect x="1051.4" y="401.6" width="9.76" height="9.76"/>
<rect x="1038.7" y="408.6" width="9.76" height="9.76"/>
<rect x="1028.7" y="415.9" width="9.76" height="9.76"/>
<rect x="1018.5" y="424.4" width="9.76" height="9.76"/>
<rect x="1006.6" y="428.1" width="9.76" height="9.76"/>
<rect x="997.4" y="438.3" width="9.76" height="9.76"/>
<rect x="984.9" y="443.4" width="9.76" height="9.76"/>
<rect x="975.0" y="449.9" width="9.76" height="9.76"/>
<rect x="965.1" y="460.5" width="9.76" height="9.76"/>
<rect x="952.6" y="466.7" width="9.76" height="9.76"/>
<rect x="938.6" y="472.6" width="9.76" height="9.76"/>
<rect x="929.5" y="480.3" width="9.76" height="9.76"/>
<rect x="918.8" y="485.8" width="9.76" height="9.76"/>
<rect x="909.6" y="492.1" width="9.76" height="9.76"/>
<rect x="897.5" y="495.1" width="9.76" height="9.76"/>
<rect x="889.5" y="502.2" width="9.76" height="9.76"/>
<rect x="876.9" y="509.3" width="9.76" height="9.76"/>
<rect x="866.6" y="514.6" width="9.76" height="9.76"/>
<rect x="856.7" y="523.4" width="9.76" height="9.76"/>
<rect x="846.3" y="528.0" width="9.76" height="9.76"/>
<rect x="832.1" y="531.7" width="9.76" height="9.76"/>
<rect x="819.6" y="537.4" width="9.76" height="9.76"/>
<rect x="809.8" y="546.5" width="9.76" height="9.76"/>
<rect x="795.6" y="551.3" width="9.76" height="9.76"/>
<rect x="787.4" y="558.2" width="9.76" height="9.76"/>
<rect x="775.5" y="565.1" width="9.76" height="9.76"/>
<rect x="765.2" y="571.3" width="9.76" height="9.76"/>
<rect x="755.9" y="577.4" width="9.76" height="9.76"/>
<rect x="742.0" y="583.7" width="9.76" height="9.76"/>
<rect x="729.1" y="590.7" width="9.76" height="9.76"/>
<rect x="1201.2" y="289.7" width="9.76" height="9.76"/>
<rect x="1193.2" y="297.4" width="9.76" height="9.76"/>
<rect x="1184.0" y="302.7" width="9.76" height="9.76"/>
<rect x="1173.5" y="308.1" width="9.76" height="9.76"/>
<rect x="1162.6" y="316.4" width="9.76" height="9.76"/>
<rect x="1152.4" y="325.6" width="9.76" height="9.76"/>
<rect x="1138.8" y="332.4" width="9.76" height="9.76"/>
<rect x="1130.9" y="341.3" width="9.76" height="9.76"/>
<rect x="1121.8" y="347.2" width="9.76" height="9.76"/>
<rect x="1107.8" y="353.9" width="9.76" height="9.76"/>
<rect x="1098.4" y="363.6" width="9.76" height="9.76"/>
<rect x="1088.2" y="371.3" width="9.76" height="9.76"/>
<rect x="1075.4" y="375.7" width="9.76" height="9.76"/>
<rect x="1065.2" y="382.4" width="9.76" height="9.76"/>
<rect x="1055.9" y="391.2" width="9.76" height="9.76"/>
<rect x="1047.2" y="397.6" width="9.76" height="9.76"/>
<rect x="1037.6" y="403.8" width="9.76" height="9.76"/>
<rect x="1026.0" y="409.6" width="9.76" height="9.76"/>
<rect x="1014.6" y="416.0" width="9.76" height="9.76"/>
<rect x="1007.4" y="424.8" width="9.76" height="9.76"/>
<rect x="997.2" y="429.7" width="9.76" height="9.76"/>
<rect x="984.3" y="436.7" width="9.76" height="9.76"/>
<rect x="976.2" y="443.8" width="9.76" height="9.76"/>
<rect x="966.1" y="451.6" width="9.76" height="9.76"/>
<rect x="956.0" y="458.5" width="9.76" height="9.76"/>
<rect x="945.7" y="465.0" width="9.76" height="9.76"/>
<rect x="935.5" y="469.7" width="9.76" height="9.76"/>
<rect x="922.9" y="475.8" width="9.76" height="9.76"/>
<rect x="915.9" y="483.3" width="9.76" height="9.76"/>
<rect x="903.6" y="487.5" width="9.76" height="9.76"/>
<rect x="892.3" y="494.7" width="9.76" height="9.76"/>
<rect x="879.6" y="502.4" width="9.76" height="9.76"/>
<rect x="869.6" y="508.6" width="9.76" height="9.76"/>
<rect x="856.1" y="513.9" width="9.76" height="9.76"/>
<rect x="844.9" y="522.2" width="9.76" height="9.76"/>
<rect x="832.2" y="529.9" width="9.76" height="9.76"/>
<rect x="818.5" y="536.0" width="9.76" height="9.76"/>
<rect x="803.3" y="541.4" width="9.76" height="9.76"/>
<rect x="791.3" y="545.8" width="9.76" height="9.76"/>
<rect x="782.1" y="552.1" width="9.76" height="9.76"/>
<rect x="771.0" y="559.0" width="9.76" height="9.76"/>
<rect x="759.9" y="564.1" width="9.76" height="9.76"/>
<rect x="749.1" y="573.4" width="9.76" height="9.76"/>
<rect x="735.6" y="578.5" width="9.76" height="9.76"/>
<rect x="724.3" y="583.7" width="9.76" height="9.76"/>
<rect x="1191.6" y="288.1" width="9.76" height="9.76"/>
<rect x="1181.7" y="297.6" width="9.76" height="9.76"/>
<rect x="1167.4" y="303.0" width="9.76" height="9.76"/>
<rect x="1157.0" y="311.6" width="9.76" height="9.76"/>
<rect x="1146.5" y="318.2" width="9.76" height="9.76"/>
<rect x="1140.4" y="327.0" width="9.76" height="9.76"/>
<rect x="1127.7" y="331.5" width="9.76" height="9.76"/>
<rect x="1116.6" y="339.1" width="9.76" height="9.76"/>
<rect x="1106.7" y="347.3" width="9.76" height="9.76"/>
<rect x="1098.3" y="354.3" width="9.76" height="9.76"/>
<rect x="1089.4" y="362.8" width="9.76" height="9.76"/>
<rect x="1076.7" y="370.3" width="9.76" height="9.76"/>
<rect x="1064.8" y="377.8" width="9.76" height="9.76"/>
<rect x="1052.3" y="383.3" width="9.76" height="9.76"/>
<rect x="1045.4" y="392.4" width="9.76" height="9.76"/>
<rect x="1034.5" y="398.2" width="9.76" height="9.76"/>
<rect x="1023.7" y="404.0" width="9.76" height="9.76"/>
<rect x="1011.4" y="411.4" width="9.76" height="9.76"/>
<rect x="1003.4" y="419.8" width="9.76" height="9.76"/>
<rect x="991.6" y="427.6" width="9.76" height="9.76"/>
<rect x="983.0" y="434.4" width="9.76" height="9.76"/>
<rect x="970.7" y="441.9" width="9.76" height="9.76"/>
<rect x="960.5" y="447.2" width="9.76" height="9.76"/>
<rect x="950.2" y="456.6" width="9.76" height="9.76"/>
<rect x="939.1" y="460.0" width="9.76" height="9.76"/>
<rect x="929.4" y="466.3" width="9.76" height="9.76"/>
<rect x="920.0" y="475.4" width="9.76" height="9.76"/>
<rect x="907.6" y="481.4" width="9.76" height="9.76"/>
<rect x="892.7" y="486.7" width="9.76" height="9.76"/>
<rect x="881.9" y="493.6" width="9.76" height="9.76"/>
<rect x="872.0" y="500.8" width="9.76" height="9.76"/>
<rect x="862.7" y="506.6" width="9.76" height="9.76"/>
<rect x="850.0" y="514.4" width="9.76" height="9.76"/>
<rect x="840.1" y="519.5" width="9.76" height="9.76"/>
<rect x="823.7" y="523.8" width="9.76" height="9.76"/>
<rect x="814.0" y="528.9" width="9.76" height="9.76"/>
<rect x="803.6" y="535.1" width="9.76" height="9.76"/>
<rect x="791.5" y="539.5" width="9.76" height="9.76"/>
<rect x="782.0" y="547.2" width="9.76" height="9.76"/>
<rect x="770.6" y="551.4" width="9.76" height="9.76"/>
<rect x="760.9" y="556.5" width="9.76" height="9.76"/>
<rect x="750.5" y="562.7" width="9.76" height="9.76"/>
<rect x="742.2" y="569.6" width="9.76" height="9.76"/>
<rect x="728.0" y="574.5" width="9.76" height="9.76"/>
<rect x="716.8" y="581.5" width="9.76" height="9.76"/>
<rect x="1189.0" y="282.7" width="9.76" height="9.76"/>
<rect x="1178.6" y="288.9" width="9.76" height="9.76"/>
<rect x="1170.6" y="296.1" width="9.76" height="9.76"/>
<rect x="1159.5" y="301.3" width="9.76" height="9.76"/>
<rect x="1148.2" y="310.3" width="9.76" height="9.76"/>
<rect x="1137.1" y="316.8" width="9.76" height="9.76"/>
<rect x="1129.0" y="324.6" width="9.76" height="9.76"/>
<rect x="1116.5" y="330.9" width="9.76" height="9.76"/>
<rect x="1107.2" y="338.0" width="9.76" height="9.76"/>
<rect x="1097.8" y="345.6" width="9.76" height="9.76"/>
<rect x="1088.9" y="351.4" width="9.76" height="9.76"/>
<rect x="1079.6" y="359.9" width="9.76" height="9.76"/>
<rect x="1067.2" y="368.1" width="9.76" height="9.76"/>
<rect x="1058.4" y="375.3" width="9.76" height="9.76"/>
<rect x="1045.0" y="380.7" width="9.76" height="9.76"/>
<rect x="1033.9" y="388.7" width="9.76" height="9.76"/>
<rect x="1022.9" y="398.0" width="9.76" height="9.76"/>
<rect x="1013.3" y="405.5" width="9.76" height="9.76"/>
<rect x="1003.8" y="410.7" width="9.76" height="9.76"/>
<rect x="994.1" y="419.3" width="9.76" height="9.76"/>
<rect x="982.2" y="426.5" width="9.76" height="9.76"/>
<rect x="969.6" y="434.1" width="9.76" height="9.76"/>
<rect x="956.8" y="441.7" width="9.76" height="9.76"/>
<rect x="949.6" y="450.6" width="9.76" height="9.76"/>
<rect x="936.4" y="456.6" width="9.76" height="9.76"/>
<rect x="923.8" y="462.7" width="9.76" height="9.76"/>
<rect x="914.6" y="472.6" width="9.76" height="9.76"/>
<rect x="904.5" y="478.2" width="9.76" height="9.76"/>
<rect x="893.2" y="482.0" width="9.76" height="9.76"/>
<rect x="885.0" y="488.5" width="9.76" height="9.76"/>
<rect x="870.5" y="493.8" width="9.76" height="9.76"/>
<rect x="862.5" y="502.0" width="9.76" height="9.76"/>
<rect x="847.5" y="506.6" width="9.76" height="9.76"/>
<rect x="838.6" y="514.3" width="9.76" height="9.76"/>
<rect x="825.6" y="518.4" width="9.76" height="9.76"/>
<rect x="813.5" y="525.2" width="9.76" height="9.76"/>
<rect x="798.8" y="530.2" width="9.76" height="9.76"/>
<rect x="786.8" y="536.6" width="9.76" height="9.76"/>
<rect x="777.2" y="541.6" width="9.76" height="9.76"/>
<rect x="766.0" y="546.7" width="9.76" height="9.76"/>
<rect x="755.5" y="551.6" width="9.76" height="9.76"/>
<rect x="748.1" y="558.8" width="9.76" height="9.76"/>
<rect x="735.9" y="565.7" width="9.76" height="9.76"/>
<rect x="723.0" y="567.9" width="9.76" height="9.76"/>
<rect x="711.2" y="574.5" width="9.76" height="9.76"/>
<rect x="1182.7" y="277.1" width="9.76" height="9.76"/>
<rect x="1171.7" y="283.2" width="9.76" height="9.76"/>
<rect x="1161.9" y="291.9" width="9.76" height="9.76"/>
<rect x="1152.3" y="296.9" width="9.76" height="9.76"/>
<rect x="1145.5" y="305.3" width="9.76" height="9.76"/>
<rect x="1133.6" y="313.4" width="9.76" height="9.76"/>
<rect x="1120.7" y="320.6" width="9.76" height="9.76"/>
<rect x="1112.4" y="328.5" width="9.76" height="9.76"/>
<rect x="1102.1" y="333.3" width="9.76" height="9.76"/>
<rect x="1092.1" y="339.7" width="9.76" height="9.76"/>
<rect x="1084.1" y="347.9" width="9.76" height="9.76"/>
<rect x="1074.5" y="354.9" width="9.76" height="9.76"/>
<rect x="1066.0" y="361.6" width="9.76" height="9.76"/>
<rect x="1056.9" y="368.8" width="9.76" height="9.76"/>
<rect x="1045.3" y="372.7" width="9.76" height="9.76"/>
<rect x="1036.1" y="380.4" width="9.76" height="9.76"/>
<rect x="1026.4" y="388.7" width="9.76" height="9.76"/>
<rect x="1016.8" y="395.9" width="9.76" height="9.76"/>
<rect x="1006.7" y="401.8" width="9.76" height="9.76"/>
<rect x="995.1" y="407.9" width="9.76" height="9.76"/>
<rect x="983.5" y="416.1" width="9.76" height="9.76"/>
<rect x="972.8" y="423.6" width="9.76" height="9.76"/>
<rect x="964.2" y="431.8" width="9.76" height="9.76"/>
<rect x="951.7" y="439.3" width="9.76" height="9.76"/>
<rect x="940.1" y="446.5" width="9.76" height="9.76"/>
<rect x="929.8" y="453.5" width="9.76" height="9.76"/>
<rect x="921.2" y="462.5" width="9.76" height="9.76"/>
<rect x="911.7" y="468.7" width="9.76" height="9.76"/>
<rect x="900.7" y="474.4" width="9.76" height="9.76"/>
<rect x="888.4" y="478.7" width="9.76" height="9.76"/>
<rect x="878.1" y="487.9" width="9.76" height="9.76"/>
<rect x="864.8" y="491.8" width="9.76" height="9.76"/>
<rect x="852.6" y="499.3" width="9.76" height="9.76"/>
<rect x="844.3" y="505.9" width="9.76" height="9.76"/>
<rect x="832.9" y="509.8" width="9.76" height="9.76"/>
<rect x="819.1" y="514.6" width="9.76" height="9.76"/>
<rect x="808.9" y="520.3" width="9.76" height="9.76"/>
<rect x="798.0" y="525.0" width="9.76" height="9.76"/>
<rect x="788.5" y="532.1" width="9.76" height="9.76"/>
<rect x="775.8" y="534.5" width="9.76" height="9.76"/>
<rect x="765.5" y="541.1" width="9.76" height="9.76"/>
<rect x="752.9" y="546.3" width="9.76" height="9.76"/>
<rect x="741.6" y="553.0" width="9.76" height="9.76"/>
<rect x="727.3" y="559.1" width="9.76" height="9.76"/>
<rect x="715.1" y="563.6" width="9.76" height="9.76"/>
<rect x="706.7" y="571.1" width="9.76" height="9.76"/>
<rect x="1180.9" y="267.6" width="9.76" height="9.76"/>
<rect x="1176.6" y="270.7" width="9.76" height="9.76"/>
<rect x="1169.0" y="278.9" width="9.76" height="9.76"/>
<rect x="1158.8" y="286.3" width="9.76" height="9.76"/>
<rect x="1146.4" y="292.1" width="9.76" height="9.76"/>
<rect x="1137.3" y="302.5" width="9.76" height="9.76"/>
<rect x="1127.7" y="309.2" width="9.76" height="9.76"/>
<rect x="1113.5" y="315.3" width="9.76" height="9.76"/>
<rect x="1106.2" y="324.0" width="9.76" height="9.76"/>
<rect x="1097.3" y="332.3" width="9.76" height="9.76"/>
<rect x="1086.7" y="339.7" width="9.76" height="9.76"/>
<rect x="1076.6" y="344.3" width="9.76" height="9.76"/>
<rect x="1066.5" y="351.4" width="9.76" height="9.76"/>
<rect x="1057.7" y="360.7" width="9.76" height="9.76"/>
<rect x="1046.8" y="364.8" width="9.76" height="9.76"/>
<rect x="1038.0" y="371.5" width="9.76" height="9.76"/>
<rect x="1026.7" y="379.0" width="9.76" height="9.76"/>
<rect x="1014.2" y="385.8" width="9.76" height="9.76"/>
<rect x="1008.2" y="394.5" width="9.76" height="9.76"/>
<rect x="997.7" y="402.3" width="9.76" height="9.76"/>
<rect x="985.4" y="407.6" width="9.76" height="9.76"/>
<rect x="976.2" y="413.5" width="9.76" height="9.76"/>
<rect x="965.0" y="421.4" width="9.76" height="9.76"/>
<rect x="957.2" y="428.8" width="9.76" height="9.76"/>
<rect x="948.7" y="438.3" width="9.76" height="9.76"/>
<rect x="937.1" y="444.5" width="9.76" height="9.76"/>
<rect x="927.0" y="450.4" width="9.76" height="9.76"/>
<rect x="915.3" y="456.3" width="9.76" height="9.76"/>
<rect x="905.3" y="464.9" width="9.76" height="9.76"/>
<rect x="892.4" y="471.6" width="9.76" height="9.76"/>
<rect x="884.4" y="478.1" width="9.76" height="9.76"/>
<rect x="874.3" y="484.3" width="9.76" height="9.76"/>
<rect x="861.0" y="487.9" width="9.76" height="9.76"/>
<rect x="852.0" y="497.4" width="9.76" height="9.76"/>
<rect x="840.0" y="501.9" width="9.76" height="9.76"/>
<rect x="826.3" y="506.5" width="9.76" height="9.76"/>
<rect x="816.5" y="512.3" width="9.76" height="9.76"/>
<rect x="803.5" y="517.0" width="9.76" height="9.76"/>
<rect x="793.2" y="522.1" width="9.76" height="9.76"/>
<rect x="781.3" y="530.1" width="9.76" height="9.76"/>
<rect x="767.0" y="535.4" width="9.76" height="9.76"/>
<rect x="751.6" y="540.0" width="9.76" height="9.76"/>
<rect x="742.2" y="548.2" width="9.76" height="9.76"/>
<rect x="726.4" y="552.9" width="9.76" height="9.76"/>
<rect x="716.7" y="558.7" width="9.76" height="9.76"/>
<rect x="701.9" y="561.7" width="9.76" height="9.76"/>
<rect x="1175.2" y="262.9" width="9.76" height="9.76"/>
<rect x="1171.4" y="267.7" width="9.76" height="9.76"/>
<rect x="1159.7" y="274.0" width="9.76" height="9.76"/>
<rect x="1149.4" y="280.6" width="9.76" height="9.76"/>
<rect x="1141.4" y="287.6" width="9.76" height="9.76"/>
<rect x="1132.4" y="297.2" width="9.76" height="9.76"/>
<rect x="1121.8" y="303.2" width="9.76" height="9.76"/>
<rect x="1111.7" y="309.8" width="9.76" height="9.76"/>
<rect x="1101.5" y="318.3" width="9.76" height="9.76"/>
<rect x="1092.8" y="327.3" width="9.76" height="9.76"/>
<rect x="1081.9" y="334.1" width="9.76" height="9.76"/>
<rect x="1069.4" y="341.8" width="9.76" height="9.76"/>
<rect x="1057.7" y="348.0" width="9.76" height="9.76"/>
<rect x="1052.1" y="356.9" width="9.76" height="9.76"/>
<rect x="1039.7" y="361.6" width="9.76" height="9.76"/>
<rect x="1029.7" y="372.0" width="9.76" height="9.76"/>
<rect x="1016.3" y="378.3" width="9.76" height="9.76"/>
<rect x="1003.8" y="386.0" width="9.76" height="9.76"/>
<rect x="995.1" y="395.3" width="9.76" height="9.76"/>
<rect x="985.5" y="401.1" width="9.76" height="9.76"/>
<rect x="976.7" y="407.8" width="9.76" height="9.76"/>
<rect x="967.6" y="416.2" width="9.76" height="9.76"/>
<rect x="954.7" y="422.7" width="9.76" height="9.76"/>
<rect x="946.0" y="430.8" width="9.76" height="9.76"/>
<rect x="935.4" y="437.0" width="9.76" height="9.76"/>
<rect x="924.5" y="445.1" width="9.76" height="9.76"/>
<rect x="914.0" y="451.8" width="9.76" height="9.76"/>
<rect x="904.7" y="460.7" width="9.76" height="9.76"/>
<rect x="891.6" y="467.0" width="9.76" height="9.76"/>
<rect x="881.9" y="475.3" width="9.76" height="9.76"/>
<rect x="869.5" y="480.4" width="9.76" height="9.76"/>
<rect x="855.2" y="485.3" width="9.76" height="9.76"/>
<rect x="842.6" y="492.6" width="9.76" height="9.76"/>
<rect x="831.2" y="501.3" width="9.76" height="9.76"/>
<rect x="817.0" y="506.4" width="9.76" height="9.76"/>
<rect x="804.4" y="513.0" width="9.76" height="9.76"/>
<rect x="790.3" y="518.0" width="9.76" height="9.76"/>
<rect x="777.8" y="525.0" width="9.76" height="9.76"/>
<rect x="764.6" y="530.1" width="9.76" height="9.76"/>
<rect x="752.1" y="534.2" width="9.76" height="9.76"/>
<rect x="743.0" y="540.5" width="9.76" height="9.76"/>
<rect x="727.3" y="545.2" width="9.76" height="9.76"/>
<rect x="718.2" y="551.2" width="9.76" height="9.76"/>
<rect x="704.0" y="554.1" width="9.76" height="9.76"/>
<rect x="694.8" y="559.7" width="9.76" height="9.76"/>
<rect x="1174.7" y="253.7" width="9.76" height="9.76"/>
<rect x="1169.1" y="260.7" width="9.76" height="9.76"/>
<rect x="1157.8" y="265.7" width="9.76" height="9.76"/>
<rect x="1146.7" y="272.4" width="9.76" height="9.76"/>
<rect x="1135.9" y="281.5" width="9.76" height="9.76"/>
<rect x="1128.7" y="288.7" width="9.76" height="9.76"/>
<rect x="1119.0" y="295.8" width="9.76" height="9.76"/>
<rect x="1109.3" y="301.9" width="9.76" height="9.76"/>
<rect x="1100.8" y="309.7" width="9.76" height="9.76"/>
<rect x="1090.7" y="317.9" width="9.76" height="9.76"/>
<rect x="1081.3" y="325.8" width="9.76" height="9.76"/>
<rect x="1072.1" y="332.2" width="9.76" height="9.76"/>
<rect x="1061.6" y="339.8" width="9.76" height="9.76"/>
<rect x="1050.3" y="348.1" width="9.76" height="9.76"/>
<rect x="1040.7" y="353.4" width="9.76" height="9.76"/>
<rect x="1031.6" y="360.6" width="9.76" height="9.76"/>
<rect x="1021.1" y="366.3" width="9.76" height="9.76"/>
<rect x="1012.1" y="372.4" width="9.76" height="9.76"/>
<rect x="1002.8" y="380.9" width="9.76" height="9.76"/>
<rect x="994.0" y="388.1" width="9.76" height="9.76"/>
<rect x="982.8" y="397.3" width="9.76" height="9.76"/>
<rect x="974.0" y="403.7" width="9.76" height="9.76"/>
<rect x="963.2" y="409.2" width="9.76" height="9.76"/>
<rect x="951.7" y="418.1" width="9.76" height="9.76"/>
<rect x="941.3" y="425.4" width="9.76" height="9.76"/>
<rect x="932.9" y="435.3" width="9.76" height="9.76"/>
<rect x="920.2" y="440.4" width="9.76" height="9.76"/>
<rect x="909.2" y="448.0" width="9.76" height="9.76"/>
<rect x="897.6" y="454.9" width="9.76" height="9.76"/>
<rect x="888.3" y="465.5" width="9.76" height="9.76"/>
<rect x="875.2" y="471.9" width="9.76" height="9.76"/>
<rect x="862.6" y="479.6" width="9.76" height="9.76"/>
<rect x="847.1" y="484.6" width="9.76" height="9.76"/>
<rect x="838.7" y="490.7" width="9.76" height="9.76"/>
<rect x="826.0" y="495.2" width="9.76" height="9.76"/>
<rect x="814.6" y="501.4" width="9.76" height="9.76"/>
<rect x="801.9" y="507.1" width="9.76" height="9.76"/>
<rect x="792.2" y="513.4" width="9.76" height="9.76"/>
<rect x="776.6" y="518.2" width="9.76" height="9.76"/>
<rect x="767.3" y="523.6" width="9.76" height="9.76"/>
<rect x="753.8" y="529.7" width="9.76" height="9.76"/>
<rect x="740.6" y="535.9" width="9.76" height="9.76"/>
<rect x="726.8" y="539.3" width="9.76" height="9.76"/>
<rect x="715.3" y="543.7" width="9.76" height="9.76"/>
<rect x="702.4" y="550.0" width="9.76" height="9.76"/>
<rect x="689.8" y="554.4" width="9.76" height="9.76"/>
</g>
<line x1="89.9" y1="928.04" x2="653.54" y2="1059.30" stroke="#ff1c00" stroke-opacity="0.42" stroke-width="7.4" stroke-linecap="butt" filter="url(#glow)"/>
<line x1="94.90" y1="929.20" x2="651.89" y2="1058.91" stroke="#000" stroke-width="3.3" stroke-linecap="round" stroke-dasharray="0 5.8906"/>
<rect transform="rotate(45)" x="922.24" y="330.40" width="8.27" height="8.27" fill="#fff" stroke="#ffebb8" stroke-width="1.45"/>
<line x1="393.5" y1="929.6" x2="441.7" y2="929.6" stroke="#000" stroke-width="3.2" stroke-linecap="round" stroke-dasharray="0 5.88"/>
<g font-family="'Liberation Serif', serif" font-size="19.55" fill="#000">
<text x="449.1" y="898.1">FCR-Stress (1022 kPa)</text>
<text x="449.1" y="935.8">Linear (FCR-Stress (1022 kPa))</text>
</g>
<g font-family="'Liberation Serif', serif" font-size="23.4" fill="#000" text-anchor="middle">
<text x="283.7" y="1076.2">FCR (%) = -0.0077(σ) - 0.0763</text>
<text x="283.7" y="1103">R² = 0.82</text>
</g>
<path d="M415.9,1003.8C415.9,1018 411,1027 400.3,1028.6C391.5,1030 388.5,1036 386.5,1043" fill="none" stroke="#000" stroke-width="1.35"/>
<path d="M379,1041.1L390.8,1043.6L382.5,1053.8Z" fill="#000"/>
<text x="387.6" y="1244.2" font-family="'Liberation Serif', serif" font-size="19" text-anchor="middle" fill="#000">(<tspan font-weight="bold">d</tspan>)</text>
</svg>
</body></html>
